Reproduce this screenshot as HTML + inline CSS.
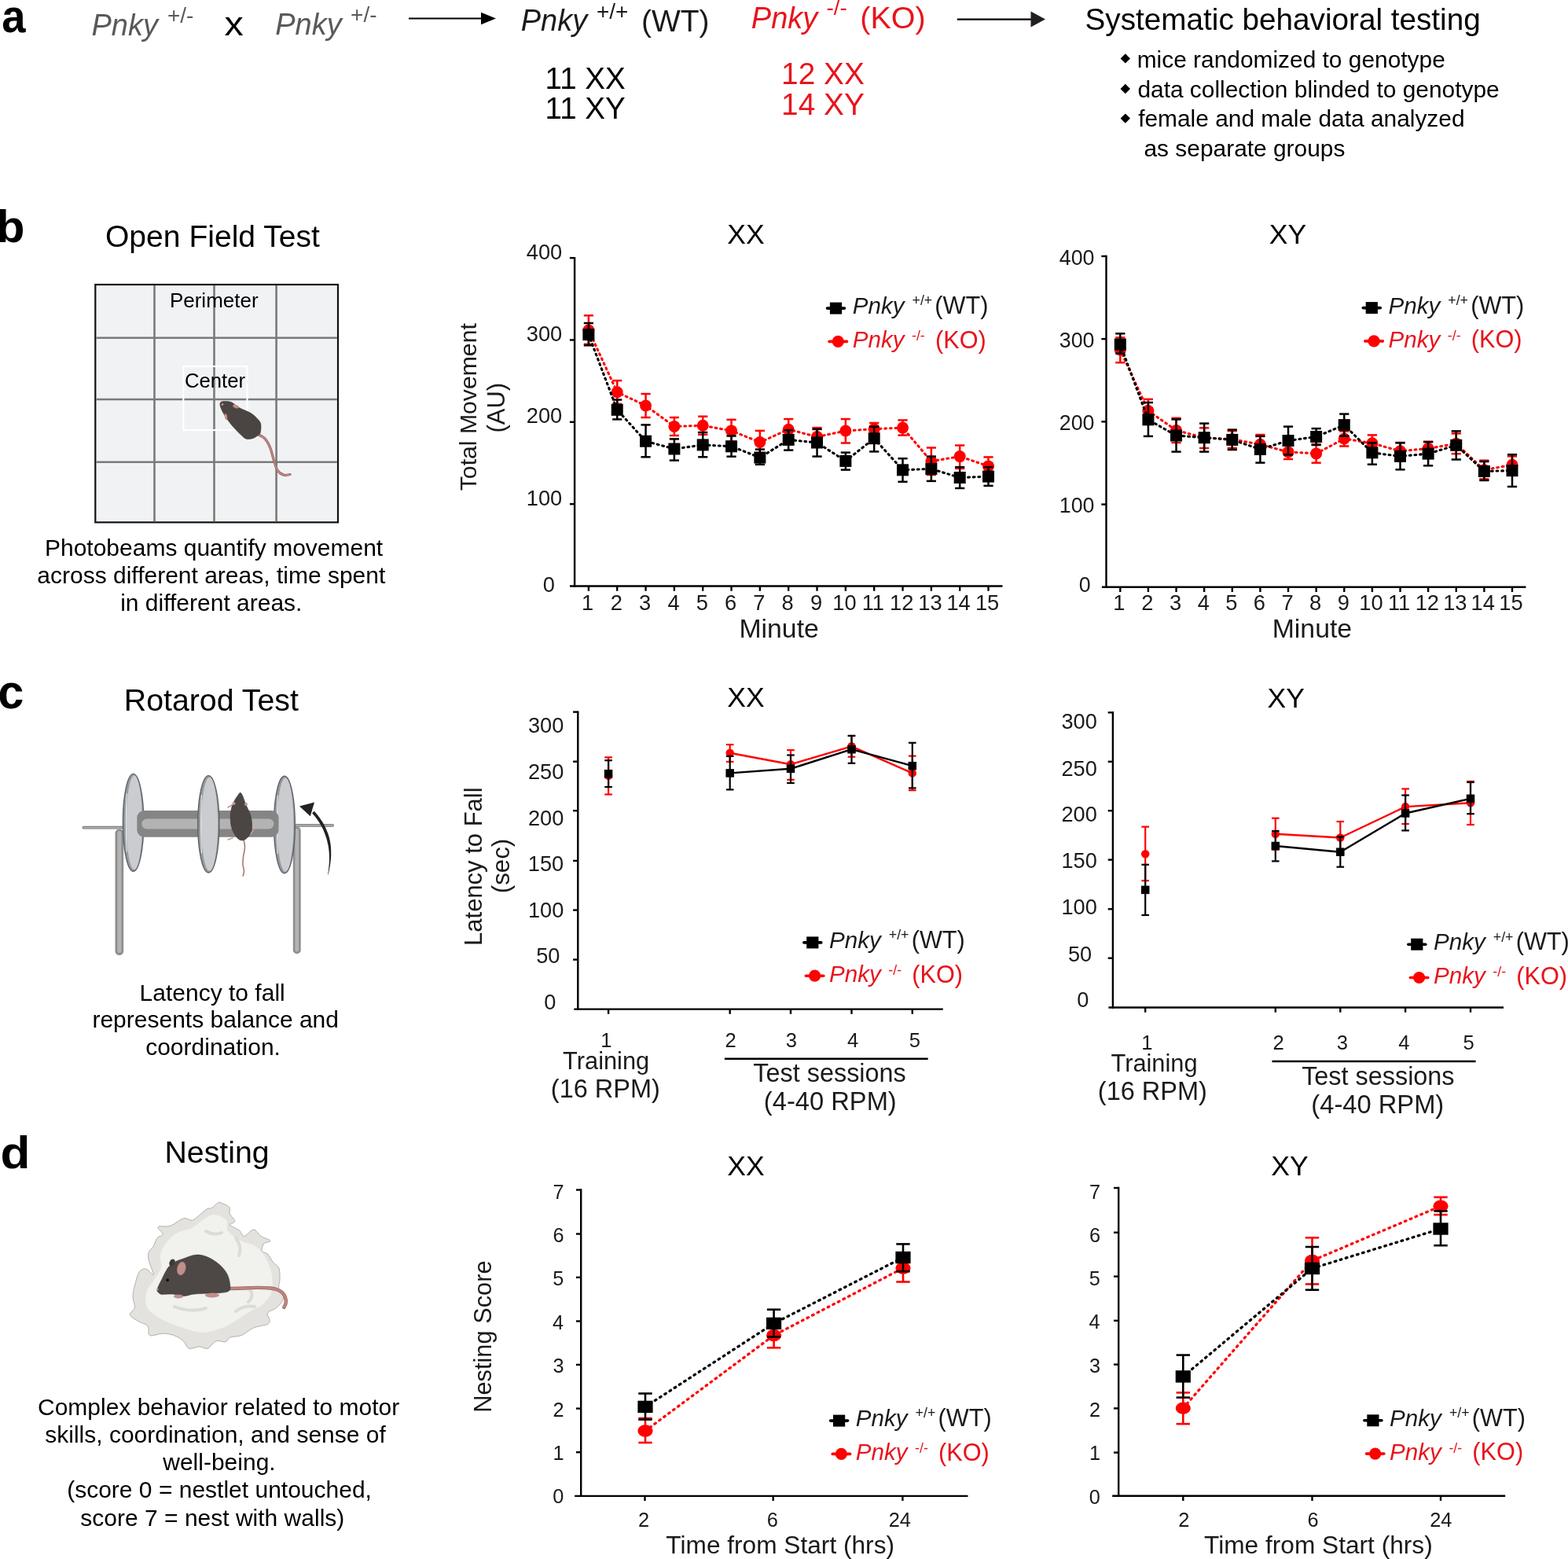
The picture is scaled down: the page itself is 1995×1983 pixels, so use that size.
<!DOCTYPE html>
<html><head><meta charset="utf-8"><title>Pnky behavioral testing</title>
<style>
html,body{margin:0;padding:0;background:#fff;}
svg{display:block;}
svg text{font-family:'Liberation Sans', Arial, sans-serif;}
</style></head>
<body>
<svg width="1995" height="1983" viewBox="0 0 1995 1983">
<rect width="1995" height="1983" fill="#fff"/>
<text transform="translate(2.37,41.20) scale(1,1.1)" font-size="54.50" font-weight="bold" fill="#000">a</text>
<text x="116.46" y="44.70" font-size="38.00" font-style="italic" fill="#58595b">Pnky</text>
<text x="212.90" y="28.90" font-size="28.00" fill="#58595b">+/-</text>
<text transform="translate(285.57,45.00) scale(1.14,1)" font-size="42.60" fill="#000">x</text>
<text x="350.16" y="44.20" font-size="38.00" font-style="italic" fill="#58595b">Pnky</text>
<text x="446.10" y="27.80" font-size="28.00" fill="#58595b">+/-</text>
<line x1="520.00" y1="23.50" x2="614.00" y2="23.50" stroke="#000" stroke-width="2.2"/>
<polygon points="612,15.8 631,23.5 612,31.2" fill="#000"/>
<text x="662.76" y="39.40" font-size="38.00" font-style="italic" fill="#1a1a1a">Pnky</text>
<text x="758.90" y="23.60" font-size="28.00" fill="#1a1a1a">+/+</text>
<text x="815.96" y="39.70" font-size="39.00" fill="#1a1a1a">(WT)</text>
<text x="955.86" y="36.20" font-size="38.00" font-style="italic" fill="#e8141c">Pnky</text>
<text x="1051.44" y="19.10" font-size="28.00" fill="#e8141c">-/-</text>
<text x="1094.33" y="35.80" font-size="39.50" fill="#e8141c">(KO)</text>
<line x1="1217.80" y1="24.60" x2="1313.00" y2="24.60" stroke="#000" stroke-width="2.2"/>
<polygon points="1311.5,14.6 1330,24.6 1311.5,34.6" fill="#231f20"/>
<text x="693.61" y="113.20" font-size="38.60" fill="#000">11 XX</text>
<text x="693.61" y="151.00" font-size="38.60" fill="#000">11 XY</text>
<text x="994.09" y="107.40" font-size="38.80" fill="#e8141c">12 XX</text>
<text x="994.09" y="146.20" font-size="38.80" fill="#e8141c">14 XY</text>
<text x="1380.56" y="38.20" font-size="38.70" fill="#000">Systematic behavioral testing</text>
<polygon points="1431.8,68.2 1438,74.4 1431.8,80.6 1425.6,74.4" fill="#000"/>
<polygon points="1431.8,106.8 1438,113.0 1431.8,119.2 1425.6,113.0" fill="#000"/>
<polygon points="1431.8,144.4 1438,150.6 1431.8,156.8 1425.6,150.6" fill="#000"/>
<text x="1446.66" y="85.70" font-size="29.90" fill="#000">mice randomized to genotype</text>
<text x="1447.40" y="123.60" font-size="29.90" fill="#000">data collection blinded to genotype</text>
<text x="1448.15" y="161.10" font-size="29.90" fill="#000">female and male data analyzed</text>
<text x="1455.50" y="199.00" font-size="29.90" fill="#000">as separate groups</text>
<text transform="translate(-4.65,307.80) scale(1.04,1)" font-size="57.00" font-weight="bold" fill="#000">b</text>
<text x="133.94" y="314.30" font-size="39.10" fill="#000">Open Field Test</text>
<text x="56.97" y="707.10" font-size="30.00" fill="#000">Photobeams quantify movement</text>
<text x="47.30" y="741.90" font-size="30.00" fill="#000">across different areas, time spent</text>
<text x="153.20" y="776.70" font-size="30.00" fill="#000">in different areas.</text>
<text transform="translate(-2.68,900.60) scale(1,1.04)" font-size="59.50" font-weight="bold" fill="#000">c</text>
<text x="157.76" y="904.30" font-size="39.30" fill="#000">Rotarod Test</text>
<text x="177.62" y="1272.80" font-size="30.00" fill="#000">Latency to fall</text>
<text x="117.45" y="1307.20" font-size="30.00" fill="#000">represents balance and</text>
<text x="185.18" y="1342.30" font-size="30.00" fill="#000">coordination.</text>
<text transform="translate(0.41,1485.80) scale(1.09,1)" font-size="57.00" font-weight="bold" fill="#000">d</text>
<text x="209.46" y="1479.20" font-size="39.30" fill="#000">Nesting</text>
<text x="47.98" y="1799.80" font-size="30.00" fill="#000">Complex behavior related to motor</text>
<text x="57.23" y="1834.90" font-size="30.00" fill="#000">skills, coordination, and sense of</text>
<text x="207.25" y="1870.10" font-size="30.00" fill="#000">well-being.</text>
<text x="85.18" y="1905.30" font-size="30.00" fill="#000">(score 0 = nestlet untouched,</text>
<text x="102.33" y="1940.50" font-size="30.00" fill="#000">score 7 = nest with walls)</text>
<rect x="121.3" y="362" width="308.7" height="302.4" fill="#f1f2f4" stroke="#111" stroke-width="2.2"/>
<line x1="196.50" y1="363.00" x2="196.50" y2="663.30" stroke="#7a7a7a" stroke-width="2.6"/>
<line x1="272.50" y1="363.00" x2="272.50" y2="663.30" stroke="#7a7a7a" stroke-width="2.6"/>
<line x1="351.60" y1="363.00" x2="351.60" y2="663.30" stroke="#7a7a7a" stroke-width="2.6"/>
<line x1="122.40" y1="429.70" x2="428.90" y2="429.70" stroke="#7a7a7a" stroke-width="2.6"/>
<line x1="122.40" y1="508.00" x2="428.90" y2="508.00" stroke="#7a7a7a" stroke-width="2.6"/>
<line x1="122.40" y1="587.70" x2="428.90" y2="587.70" stroke="#7a7a7a" stroke-width="2.6"/>
<rect x="233.3" y="466" width="81.2" height="81.1" fill="none" stroke="#fff" stroke-width="2.2"/>
<text x="215.92" y="391.20" font-size="26.00" fill="#000">Perimeter</text>
<text x="234.91" y="493.00" font-size="25.70" fill="#000">Center</text>
<line x1="731.10" y1="326.90" x2="731.10" y2="746.70" stroke="#000" stroke-width="2.4"/>
<line x1="725.00" y1="745.50" x2="1275.50" y2="745.50" stroke="#000" stroke-width="2.4"/>
<line x1="724.90" y1="641.15" x2="731.10" y2="641.15" stroke="#000" stroke-width="2.4"/>
<line x1="724.90" y1="536.80" x2="731.10" y2="536.80" stroke="#000" stroke-width="2.4"/>
<line x1="724.90" y1="432.45" x2="731.10" y2="432.45" stroke="#000" stroke-width="2.4"/>
<line x1="724.90" y1="328.10" x2="731.10" y2="328.10" stroke="#000" stroke-width="2.4"/>
<line x1="748.90" y1="745.50" x2="748.90" y2="751.70" stroke="#000" stroke-width="2.4"/>
<line x1="785.23" y1="745.50" x2="785.23" y2="751.70" stroke="#000" stroke-width="2.4"/>
<line x1="821.56" y1="745.50" x2="821.56" y2="751.70" stroke="#000" stroke-width="2.4"/>
<line x1="857.89" y1="745.50" x2="857.89" y2="751.70" stroke="#000" stroke-width="2.4"/>
<line x1="894.22" y1="745.50" x2="894.22" y2="751.70" stroke="#000" stroke-width="2.4"/>
<line x1="930.55" y1="745.50" x2="930.55" y2="751.70" stroke="#000" stroke-width="2.4"/>
<line x1="966.88" y1="745.50" x2="966.88" y2="751.70" stroke="#000" stroke-width="2.4"/>
<line x1="1003.21" y1="745.50" x2="1003.21" y2="751.70" stroke="#000" stroke-width="2.4"/>
<line x1="1039.54" y1="745.50" x2="1039.54" y2="751.70" stroke="#000" stroke-width="2.4"/>
<line x1="1075.87" y1="745.50" x2="1075.87" y2="751.70" stroke="#000" stroke-width="2.4"/>
<line x1="1112.20" y1="745.50" x2="1112.20" y2="751.70" stroke="#000" stroke-width="2.4"/>
<line x1="1148.53" y1="745.50" x2="1148.53" y2="751.70" stroke="#000" stroke-width="2.4"/>
<line x1="1184.86" y1="745.50" x2="1184.86" y2="751.70" stroke="#000" stroke-width="2.4"/>
<line x1="1221.19" y1="745.50" x2="1221.19" y2="751.70" stroke="#000" stroke-width="2.4"/>
<line x1="1257.52" y1="745.50" x2="1257.52" y2="751.70" stroke="#000" stroke-width="2.4"/>
<text x="669.74" y="642.75" font-size="27.30" fill="#1a1a1a">100</text>
<text x="669.74" y="538.40" font-size="27.30" fill="#1a1a1a">200</text>
<text x="669.74" y="434.05" font-size="27.30" fill="#1a1a1a">300</text>
<text x="669.74" y="329.70" font-size="27.30" fill="#1a1a1a">400</text>
<text x="690.74" y="752.80" font-size="27.30" fill="#1a1a1a">0</text>
<text x="739.91" y="776.20" font-size="27.30" fill="#1a1a1a">1</text>
<text x="776.65" y="776.20" font-size="27.30" fill="#1a1a1a">2</text>
<text x="813.05" y="776.20" font-size="27.30" fill="#1a1a1a">3</text>
<text x="849.38" y="776.20" font-size="27.30" fill="#1a1a1a">4</text>
<text x="885.64" y="776.20" font-size="27.30" fill="#1a1a1a">5</text>
<text x="921.91" y="776.20" font-size="27.30" fill="#1a1a1a">6</text>
<text x="958.30" y="776.20" font-size="27.30" fill="#1a1a1a">7</text>
<text x="994.57" y="776.20" font-size="27.30" fill="#1a1a1a">8</text>
<text x="1030.96" y="776.20" font-size="27.30" fill="#1a1a1a">9</text>
<text x="1059.24" y="776.20" font-size="27.30" fill="#1a1a1a">10</text>
<text x="1096.66" y="776.20" font-size="27.30" fill="#1a1a1a">11</text>
<text x="1132.04" y="776.20" font-size="27.30" fill="#1a1a1a">12</text>
<text x="1168.30" y="776.20" font-size="27.30" fill="#1a1a1a">13</text>
<text x="1204.42" y="776.20" font-size="27.30" fill="#1a1a1a">14</text>
<text x="1240.89" y="776.20" font-size="27.30" fill="#1a1a1a">15</text>
<text x="925.21" y="309.90" font-size="35.50" fill="#000">XX</text>
<text x="940.40" y="811.10" font-size="33.80" fill="#1a1a1a">Minute</text>
<text transform="translate(606.30,517.50) rotate(-90)" x="-106.76" y="0" font-size="30.20" fill="#1a1a1a">Total Movement</text>
<text transform="translate(642.30,518.75) rotate(-90)" x="-31.77" y="0" font-size="31.00" fill="#1a1a1a">(AU)</text>
<polyline points="748.90,420.00 785.23,498.80 821.56,516.00 857.89,542.40 894.22,541.30 930.55,547.90 966.88,562.50 1003.21,546.20 1039.54,555.60 1075.87,548.00 1112.20,545.70 1148.53,544.10 1184.86,586.70 1221.19,580.60 1257.52,592.90" fill="none" stroke="#ff0000" stroke-width="3.1" stroke-dasharray="1.8 4.8" stroke-linecap="round" stroke-linejoin="round"/>
<line x1="748.90" y1="401.30" x2="748.90" y2="437.80" stroke="#ff0000" stroke-width="2.5"/>
<line x1="742.80" y1="401.30" x2="755.00" y2="401.30" stroke="#ff0000" stroke-width="2.5"/>
<line x1="742.80" y1="437.80" x2="755.00" y2="437.80" stroke="#ff0000" stroke-width="2.5"/>
<line x1="785.23" y1="484.10" x2="785.23" y2="513.80" stroke="#ff0000" stroke-width="2.5"/>
<line x1="779.13" y1="484.10" x2="791.33" y2="484.10" stroke="#ff0000" stroke-width="2.5"/>
<line x1="779.13" y1="513.80" x2="791.33" y2="513.80" stroke="#ff0000" stroke-width="2.5"/>
<line x1="821.56" y1="501.00" x2="821.56" y2="531.00" stroke="#ff0000" stroke-width="2.5"/>
<line x1="815.46" y1="501.00" x2="827.66" y2="501.00" stroke="#ff0000" stroke-width="2.5"/>
<line x1="815.46" y1="531.00" x2="827.66" y2="531.00" stroke="#ff0000" stroke-width="2.5"/>
<line x1="857.89" y1="531.00" x2="857.89" y2="554.00" stroke="#ff0000" stroke-width="2.5"/>
<line x1="851.79" y1="531.00" x2="863.99" y2="531.00" stroke="#ff0000" stroke-width="2.5"/>
<line x1="851.79" y1="554.00" x2="863.99" y2="554.00" stroke="#ff0000" stroke-width="2.5"/>
<line x1="894.22" y1="529.70" x2="894.22" y2="552.80" stroke="#ff0000" stroke-width="2.5"/>
<line x1="888.12" y1="529.70" x2="900.32" y2="529.70" stroke="#ff0000" stroke-width="2.5"/>
<line x1="888.12" y1="552.80" x2="900.32" y2="552.80" stroke="#ff0000" stroke-width="2.5"/>
<line x1="930.55" y1="533.80" x2="930.55" y2="561.60" stroke="#ff0000" stroke-width="2.5"/>
<line x1="924.45" y1="533.80" x2="936.65" y2="533.80" stroke="#ff0000" stroke-width="2.5"/>
<line x1="924.45" y1="561.60" x2="936.65" y2="561.60" stroke="#ff0000" stroke-width="2.5"/>
<line x1="966.88" y1="547.90" x2="966.88" y2="576.60" stroke="#ff0000" stroke-width="2.5"/>
<line x1="960.78" y1="547.90" x2="972.98" y2="547.90" stroke="#ff0000" stroke-width="2.5"/>
<line x1="960.78" y1="576.60" x2="972.98" y2="576.60" stroke="#ff0000" stroke-width="2.5"/>
<line x1="1003.21" y1="533.00" x2="1003.21" y2="559.40" stroke="#ff0000" stroke-width="2.5"/>
<line x1="997.11" y1="533.00" x2="1009.31" y2="533.00" stroke="#ff0000" stroke-width="2.5"/>
<line x1="997.11" y1="559.40" x2="1009.31" y2="559.40" stroke="#ff0000" stroke-width="2.5"/>
<line x1="1039.54" y1="544.10" x2="1039.54" y2="567.00" stroke="#ff0000" stroke-width="2.5"/>
<line x1="1033.44" y1="544.10" x2="1045.64" y2="544.10" stroke="#ff0000" stroke-width="2.5"/>
<line x1="1033.44" y1="567.00" x2="1045.64" y2="567.00" stroke="#ff0000" stroke-width="2.5"/>
<line x1="1075.87" y1="533.00" x2="1075.87" y2="563.50" stroke="#ff0000" stroke-width="2.5"/>
<line x1="1069.77" y1="533.00" x2="1081.97" y2="533.00" stroke="#ff0000" stroke-width="2.5"/>
<line x1="1069.77" y1="563.50" x2="1081.97" y2="563.50" stroke="#ff0000" stroke-width="2.5"/>
<line x1="1112.20" y1="538.00" x2="1112.20" y2="553.40" stroke="#ff0000" stroke-width="2.5"/>
<line x1="1106.10" y1="538.00" x2="1118.30" y2="538.00" stroke="#ff0000" stroke-width="2.5"/>
<line x1="1106.10" y1="553.40" x2="1118.30" y2="553.40" stroke="#ff0000" stroke-width="2.5"/>
<line x1="1148.53" y1="534.40" x2="1148.53" y2="553.60" stroke="#ff0000" stroke-width="2.5"/>
<line x1="1142.43" y1="534.40" x2="1154.63" y2="534.40" stroke="#ff0000" stroke-width="2.5"/>
<line x1="1142.43" y1="553.60" x2="1154.63" y2="553.60" stroke="#ff0000" stroke-width="2.5"/>
<line x1="1184.86" y1="569.50" x2="1184.86" y2="604.00" stroke="#ff0000" stroke-width="2.5"/>
<line x1="1178.76" y1="569.50" x2="1190.96" y2="569.50" stroke="#ff0000" stroke-width="2.5"/>
<line x1="1178.76" y1="604.00" x2="1190.96" y2="604.00" stroke="#ff0000" stroke-width="2.5"/>
<line x1="1221.19" y1="566.50" x2="1221.19" y2="595.90" stroke="#ff0000" stroke-width="2.5"/>
<line x1="1215.09" y1="566.50" x2="1227.29" y2="566.50" stroke="#ff0000" stroke-width="2.5"/>
<line x1="1215.09" y1="595.90" x2="1227.29" y2="595.90" stroke="#ff0000" stroke-width="2.5"/>
<line x1="1257.52" y1="581.40" x2="1257.52" y2="604.40" stroke="#ff0000" stroke-width="2.5"/>
<line x1="1251.42" y1="581.40" x2="1263.62" y2="581.40" stroke="#ff0000" stroke-width="2.5"/>
<line x1="1251.42" y1="604.40" x2="1263.62" y2="604.40" stroke="#ff0000" stroke-width="2.5"/>
<ellipse cx="748.90" cy="420.00" rx="7.5" ry="7.5" fill="#ff0000"/>
<ellipse cx="785.23" cy="498.80" rx="7.5" ry="7.5" fill="#ff0000"/>
<ellipse cx="821.56" cy="516.00" rx="7.5" ry="7.5" fill="#ff0000"/>
<ellipse cx="857.89" cy="542.40" rx="7.5" ry="7.5" fill="#ff0000"/>
<ellipse cx="894.22" cy="541.30" rx="7.5" ry="7.5" fill="#ff0000"/>
<ellipse cx="930.55" cy="547.90" rx="7.5" ry="7.5" fill="#ff0000"/>
<ellipse cx="966.88" cy="562.50" rx="7.5" ry="7.5" fill="#ff0000"/>
<ellipse cx="1003.21" cy="546.20" rx="7.5" ry="7.5" fill="#ff0000"/>
<ellipse cx="1039.54" cy="555.60" rx="7.5" ry="7.5" fill="#ff0000"/>
<ellipse cx="1075.87" cy="548.00" rx="7.5" ry="7.5" fill="#ff0000"/>
<ellipse cx="1112.20" cy="545.70" rx="7.5" ry="7.5" fill="#ff0000"/>
<ellipse cx="1148.53" cy="544.10" rx="7.5" ry="7.5" fill="#ff0000"/>
<ellipse cx="1184.86" cy="586.70" rx="7.5" ry="7.5" fill="#ff0000"/>
<ellipse cx="1221.19" cy="580.60" rx="7.5" ry="7.5" fill="#ff0000"/>
<ellipse cx="1257.52" cy="592.90" rx="7.5" ry="7.5" fill="#ff0000"/>
<polyline points="748.90,425.60 785.23,521.30 821.56,561.20 857.89,571.00 894.22,565.90 930.55,567.80 966.88,582.00 1003.21,559.40 1039.54,563.00 1075.87,586.40 1112.20,557.70 1148.53,597.80 1184.86,596.40 1221.19,607.50 1257.52,606.10" fill="none" stroke="#000" stroke-width="3.1" stroke-dasharray="1.8 4.8" stroke-linecap="round" stroke-linejoin="round"/>
<line x1="748.90" y1="411.00" x2="748.90" y2="439.30" stroke="#000" stroke-width="2.5"/>
<line x1="742.80" y1="411.00" x2="755.00" y2="411.00" stroke="#000" stroke-width="2.5"/>
<line x1="742.80" y1="439.30" x2="755.00" y2="439.30" stroke="#000" stroke-width="2.5"/>
<line x1="785.23" y1="508.50" x2="785.23" y2="533.40" stroke="#000" stroke-width="2.5"/>
<line x1="779.13" y1="508.50" x2="791.33" y2="508.50" stroke="#000" stroke-width="2.5"/>
<line x1="779.13" y1="533.40" x2="791.33" y2="533.40" stroke="#000" stroke-width="2.5"/>
<line x1="821.56" y1="540.40" x2="821.56" y2="581.30" stroke="#000" stroke-width="2.5"/>
<line x1="815.46" y1="540.40" x2="827.66" y2="540.40" stroke="#000" stroke-width="2.5"/>
<line x1="815.46" y1="581.30" x2="827.66" y2="581.30" stroke="#000" stroke-width="2.5"/>
<line x1="857.89" y1="558.40" x2="857.89" y2="585.60" stroke="#000" stroke-width="2.5"/>
<line x1="851.79" y1="558.40" x2="863.99" y2="558.40" stroke="#000" stroke-width="2.5"/>
<line x1="851.79" y1="585.60" x2="863.99" y2="585.60" stroke="#000" stroke-width="2.5"/>
<line x1="894.22" y1="550.00" x2="894.22" y2="581.30" stroke="#000" stroke-width="2.5"/>
<line x1="888.12" y1="550.00" x2="900.32" y2="550.00" stroke="#000" stroke-width="2.5"/>
<line x1="888.12" y1="581.30" x2="900.32" y2="581.30" stroke="#000" stroke-width="2.5"/>
<line x1="930.55" y1="554.50" x2="930.55" y2="580.70" stroke="#000" stroke-width="2.5"/>
<line x1="924.45" y1="554.50" x2="936.65" y2="554.50" stroke="#000" stroke-width="2.5"/>
<line x1="924.45" y1="580.70" x2="936.65" y2="580.70" stroke="#000" stroke-width="2.5"/>
<line x1="966.88" y1="571.60" x2="966.88" y2="590.80" stroke="#000" stroke-width="2.5"/>
<line x1="960.78" y1="571.60" x2="972.98" y2="571.60" stroke="#000" stroke-width="2.5"/>
<line x1="960.78" y1="590.80" x2="972.98" y2="590.80" stroke="#000" stroke-width="2.5"/>
<line x1="1003.21" y1="547.10" x2="1003.21" y2="572.60" stroke="#000" stroke-width="2.5"/>
<line x1="997.11" y1="547.10" x2="1009.31" y2="547.10" stroke="#000" stroke-width="2.5"/>
<line x1="997.11" y1="572.60" x2="1009.31" y2="572.60" stroke="#000" stroke-width="2.5"/>
<line x1="1039.54" y1="545.90" x2="1039.54" y2="580.60" stroke="#000" stroke-width="2.5"/>
<line x1="1033.44" y1="545.90" x2="1045.64" y2="545.90" stroke="#000" stroke-width="2.5"/>
<line x1="1033.44" y1="580.60" x2="1045.64" y2="580.60" stroke="#000" stroke-width="2.5"/>
<line x1="1075.87" y1="575.60" x2="1075.87" y2="597.60" stroke="#000" stroke-width="2.5"/>
<line x1="1069.77" y1="575.60" x2="1081.97" y2="575.60" stroke="#000" stroke-width="2.5"/>
<line x1="1069.77" y1="597.60" x2="1081.97" y2="597.60" stroke="#000" stroke-width="2.5"/>
<line x1="1112.20" y1="542.70" x2="1112.20" y2="574.40" stroke="#000" stroke-width="2.5"/>
<line x1="1106.10" y1="542.70" x2="1118.30" y2="542.70" stroke="#000" stroke-width="2.5"/>
<line x1="1106.10" y1="574.40" x2="1118.30" y2="574.40" stroke="#000" stroke-width="2.5"/>
<line x1="1148.53" y1="583.20" x2="1148.53" y2="612.80" stroke="#000" stroke-width="2.5"/>
<line x1="1142.43" y1="583.20" x2="1154.63" y2="583.20" stroke="#000" stroke-width="2.5"/>
<line x1="1142.43" y1="612.80" x2="1154.63" y2="612.80" stroke="#000" stroke-width="2.5"/>
<line x1="1184.86" y1="580.60" x2="1184.86" y2="611.90" stroke="#000" stroke-width="2.5"/>
<line x1="1178.76" y1="580.60" x2="1190.96" y2="580.60" stroke="#000" stroke-width="2.5"/>
<line x1="1178.76" y1="611.90" x2="1190.96" y2="611.90" stroke="#000" stroke-width="2.5"/>
<line x1="1221.19" y1="594.10" x2="1221.19" y2="621.00" stroke="#000" stroke-width="2.5"/>
<line x1="1215.09" y1="594.10" x2="1227.29" y2="594.10" stroke="#000" stroke-width="2.5"/>
<line x1="1215.09" y1="621.00" x2="1227.29" y2="621.00" stroke="#000" stroke-width="2.5"/>
<line x1="1257.52" y1="594.10" x2="1257.52" y2="617.90" stroke="#000" stroke-width="2.5"/>
<line x1="1251.42" y1="594.10" x2="1263.62" y2="594.10" stroke="#000" stroke-width="2.5"/>
<line x1="1251.42" y1="617.90" x2="1263.62" y2="617.90" stroke="#000" stroke-width="2.5"/>
<rect x="741.40" y="418.10" width="15" height="15" fill="#000"/>
<rect x="777.73" y="513.80" width="15" height="15" fill="#000"/>
<rect x="814.06" y="553.70" width="15" height="15" fill="#000"/>
<rect x="850.39" y="563.50" width="15" height="15" fill="#000"/>
<rect x="886.72" y="558.40" width="15" height="15" fill="#000"/>
<rect x="923.05" y="560.30" width="15" height="15" fill="#000"/>
<rect x="959.38" y="574.50" width="15" height="15" fill="#000"/>
<rect x="995.71" y="551.90" width="15" height="15" fill="#000"/>
<rect x="1032.04" y="555.50" width="15" height="15" fill="#000"/>
<rect x="1068.37" y="578.90" width="15" height="15" fill="#000"/>
<rect x="1104.70" y="550.20" width="15" height="15" fill="#000"/>
<rect x="1141.03" y="590.30" width="15" height="15" fill="#000"/>
<rect x="1177.36" y="588.90" width="15" height="15" fill="#000"/>
<rect x="1213.69" y="600.00" width="15" height="15" fill="#000"/>
<rect x="1250.02" y="598.60" width="15" height="15" fill="#000"/>
<line x1="1052.50" y1="392.10" x2="1074.50" y2="392.10" stroke="#000" stroke-width="3.6" stroke-linecap="round"/>
<rect x="1055.90" y="384.60" width="15.2" height="15" fill="#000"/>
<line x1="1055.10" y1="434.40" x2="1077.50" y2="434.40" stroke="#ff0000" stroke-width="3.6" stroke-linecap="round"/>
<circle cx="1066.30" cy="434.40" r="7.6" fill="#ff0000"/>
<text x="1084.71" y="399.00" font-size="29.60" font-style="italic" fill="#1a1a1a">Pnky</text>
<text x="1160.51" y="388.40" font-size="17.80" fill="#1a1a1a">+/+</text>
<text x="1189.36" y="399.00" font-size="30.70" fill="#1a1a1a">(WT)</text>
<text x="1084.71" y="442.10" font-size="29.60" font-style="italic" fill="#e8141c">Pnky</text>
<text x="1160.00" y="433.00" font-size="17.80" fill="#e8141c">-/-</text>
<text x="1189.96" y="442.70" font-size="30.70" fill="#e8141c">(KO)</text>
<line x1="1407.50" y1="324.70" x2="1407.50" y2="748.00" stroke="#000" stroke-width="2.4"/>
<line x1="1401.90" y1="746.80" x2="1941.40" y2="746.80" stroke="#000" stroke-width="2.4"/>
<line x1="1401.30" y1="641.57" x2="1407.50" y2="641.57" stroke="#000" stroke-width="2.4"/>
<line x1="1401.30" y1="536.35" x2="1407.50" y2="536.35" stroke="#000" stroke-width="2.4"/>
<line x1="1401.30" y1="431.12" x2="1407.50" y2="431.12" stroke="#000" stroke-width="2.4"/>
<line x1="1401.30" y1="325.90" x2="1407.50" y2="325.90" stroke="#000" stroke-width="2.4"/>
<line x1="1425.30" y1="746.80" x2="1425.30" y2="753.00" stroke="#000" stroke-width="2.4"/>
<line x1="1460.92" y1="746.80" x2="1460.92" y2="753.00" stroke="#000" stroke-width="2.4"/>
<line x1="1496.54" y1="746.80" x2="1496.54" y2="753.00" stroke="#000" stroke-width="2.4"/>
<line x1="1532.16" y1="746.80" x2="1532.16" y2="753.00" stroke="#000" stroke-width="2.4"/>
<line x1="1567.78" y1="746.80" x2="1567.78" y2="753.00" stroke="#000" stroke-width="2.4"/>
<line x1="1603.40" y1="746.80" x2="1603.40" y2="753.00" stroke="#000" stroke-width="2.4"/>
<line x1="1639.02" y1="746.80" x2="1639.02" y2="753.00" stroke="#000" stroke-width="2.4"/>
<line x1="1674.64" y1="746.80" x2="1674.64" y2="753.00" stroke="#000" stroke-width="2.4"/>
<line x1="1710.26" y1="746.80" x2="1710.26" y2="753.00" stroke="#000" stroke-width="2.4"/>
<line x1="1745.88" y1="746.80" x2="1745.88" y2="753.00" stroke="#000" stroke-width="2.4"/>
<line x1="1781.50" y1="746.80" x2="1781.50" y2="753.00" stroke="#000" stroke-width="2.4"/>
<line x1="1817.12" y1="746.80" x2="1817.12" y2="753.00" stroke="#000" stroke-width="2.4"/>
<line x1="1852.74" y1="746.80" x2="1852.74" y2="753.00" stroke="#000" stroke-width="2.4"/>
<line x1="1888.36" y1="746.80" x2="1888.36" y2="753.00" stroke="#000" stroke-width="2.4"/>
<line x1="1923.98" y1="746.80" x2="1923.98" y2="753.00" stroke="#000" stroke-width="2.4"/>
<text x="1347.75" y="652.47" font-size="26.80" fill="#1a1a1a">100</text>
<text x="1347.75" y="547.25" font-size="26.80" fill="#1a1a1a">200</text>
<text x="1347.75" y="442.02" font-size="26.80" fill="#1a1a1a">300</text>
<text x="1347.75" y="336.80" font-size="26.80" fill="#1a1a1a">400</text>
<text x="1372.80" y="752.90" font-size="26.80" fill="#1a1a1a">0</text>
<text x="1416.31" y="775.90" font-size="27.30" fill="#1a1a1a">1</text>
<text x="1452.34" y="775.90" font-size="27.30" fill="#1a1a1a">2</text>
<text x="1488.03" y="775.90" font-size="27.30" fill="#1a1a1a">3</text>
<text x="1523.65" y="775.90" font-size="27.30" fill="#1a1a1a">4</text>
<text x="1559.20" y="775.90" font-size="27.30" fill="#1a1a1a">5</text>
<text x="1594.76" y="775.90" font-size="27.30" fill="#1a1a1a">6</text>
<text x="1630.44" y="775.90" font-size="27.30" fill="#1a1a1a">7</text>
<text x="1666.00" y="775.90" font-size="27.30" fill="#1a1a1a">8</text>
<text x="1701.68" y="775.90" font-size="27.30" fill="#1a1a1a">9</text>
<text x="1729.25" y="775.90" font-size="27.30" fill="#1a1a1a">10</text>
<text x="1765.96" y="775.90" font-size="27.30" fill="#1a1a1a">11</text>
<text x="1800.63" y="775.90" font-size="27.30" fill="#1a1a1a">12</text>
<text x="1836.18" y="775.90" font-size="27.30" fill="#1a1a1a">13</text>
<text x="1871.59" y="775.90" font-size="27.30" fill="#1a1a1a">14</text>
<text x="1907.35" y="775.90" font-size="27.30" fill="#1a1a1a">15</text>
<text x="1614.71" y="309.60" font-size="35.50" fill="#000">XY</text>
<text x="1618.70" y="810.80" font-size="33.80" fill="#1a1a1a">Minute</text>
<polyline points="1425.30,444.90 1460.92,522.60 1496.54,547.40 1532.16,556.70 1567.78,558.80 1603.40,565.30 1639.02,574.90 1674.64,576.90 1710.26,558.00 1745.88,563.80 1781.50,573.80 1817.12,570.50 1852.74,564.30 1888.36,597.80 1923.98,591.20" fill="none" stroke="#ff0000" stroke-width="3.1" stroke-dasharray="1.8 4.8" stroke-linecap="round" stroke-linejoin="round"/>
<line x1="1425.30" y1="429.40" x2="1425.30" y2="461.20" stroke="#ff0000" stroke-width="2.5"/>
<line x1="1419.20" y1="429.40" x2="1431.40" y2="429.40" stroke="#ff0000" stroke-width="2.5"/>
<line x1="1419.20" y1="461.20" x2="1431.40" y2="461.20" stroke="#ff0000" stroke-width="2.5"/>
<line x1="1460.92" y1="507.80" x2="1460.92" y2="537.40" stroke="#ff0000" stroke-width="2.5"/>
<line x1="1454.82" y1="507.80" x2="1467.02" y2="507.80" stroke="#ff0000" stroke-width="2.5"/>
<line x1="1454.82" y1="537.40" x2="1467.02" y2="537.40" stroke="#ff0000" stroke-width="2.5"/>
<line x1="1496.54" y1="531.80" x2="1496.54" y2="563.00" stroke="#ff0000" stroke-width="2.5"/>
<line x1="1490.44" y1="531.80" x2="1502.64" y2="531.80" stroke="#ff0000" stroke-width="2.5"/>
<line x1="1490.44" y1="563.00" x2="1502.64" y2="563.00" stroke="#ff0000" stroke-width="2.5"/>
<line x1="1532.16" y1="544.30" x2="1532.16" y2="570.00" stroke="#ff0000" stroke-width="2.5"/>
<line x1="1526.06" y1="544.30" x2="1538.26" y2="544.30" stroke="#ff0000" stroke-width="2.5"/>
<line x1="1526.06" y1="570.00" x2="1538.26" y2="570.00" stroke="#ff0000" stroke-width="2.5"/>
<line x1="1567.78" y1="548.20" x2="1567.78" y2="570.00" stroke="#ff0000" stroke-width="2.5"/>
<line x1="1561.68" y1="548.20" x2="1573.88" y2="548.20" stroke="#ff0000" stroke-width="2.5"/>
<line x1="1561.68" y1="570.00" x2="1573.88" y2="570.00" stroke="#ff0000" stroke-width="2.5"/>
<line x1="1603.40" y1="553.00" x2="1603.40" y2="577.60" stroke="#ff0000" stroke-width="2.5"/>
<line x1="1597.30" y1="553.00" x2="1609.50" y2="553.00" stroke="#ff0000" stroke-width="2.5"/>
<line x1="1597.30" y1="577.60" x2="1609.50" y2="577.60" stroke="#ff0000" stroke-width="2.5"/>
<line x1="1639.02" y1="565.80" x2="1639.02" y2="584.00" stroke="#ff0000" stroke-width="2.5"/>
<line x1="1632.92" y1="565.80" x2="1645.12" y2="565.80" stroke="#ff0000" stroke-width="2.5"/>
<line x1="1632.92" y1="584.00" x2="1645.12" y2="584.00" stroke="#ff0000" stroke-width="2.5"/>
<line x1="1674.64" y1="565.10" x2="1674.64" y2="588.70" stroke="#ff0000" stroke-width="2.5"/>
<line x1="1668.54" y1="565.10" x2="1680.74" y2="565.10" stroke="#ff0000" stroke-width="2.5"/>
<line x1="1668.54" y1="588.70" x2="1680.74" y2="588.70" stroke="#ff0000" stroke-width="2.5"/>
<line x1="1710.26" y1="548.50" x2="1710.26" y2="567.50" stroke="#ff0000" stroke-width="2.5"/>
<line x1="1704.16" y1="548.50" x2="1716.36" y2="548.50" stroke="#ff0000" stroke-width="2.5"/>
<line x1="1704.16" y1="567.50" x2="1716.36" y2="567.50" stroke="#ff0000" stroke-width="2.5"/>
<line x1="1745.88" y1="553.40" x2="1745.88" y2="574.00" stroke="#ff0000" stroke-width="2.5"/>
<line x1="1739.78" y1="553.40" x2="1751.98" y2="553.40" stroke="#ff0000" stroke-width="2.5"/>
<line x1="1739.78" y1="574.00" x2="1751.98" y2="574.00" stroke="#ff0000" stroke-width="2.5"/>
<line x1="1781.50" y1="563.00" x2="1781.50" y2="584.60" stroke="#ff0000" stroke-width="2.5"/>
<line x1="1775.40" y1="563.00" x2="1787.60" y2="563.00" stroke="#ff0000" stroke-width="2.5"/>
<line x1="1775.40" y1="584.60" x2="1787.60" y2="584.60" stroke="#ff0000" stroke-width="2.5"/>
<line x1="1817.12" y1="561.70" x2="1817.12" y2="579.30" stroke="#ff0000" stroke-width="2.5"/>
<line x1="1811.02" y1="561.70" x2="1823.22" y2="561.70" stroke="#ff0000" stroke-width="2.5"/>
<line x1="1811.02" y1="579.30" x2="1823.22" y2="579.30" stroke="#ff0000" stroke-width="2.5"/>
<line x1="1852.74" y1="551.40" x2="1852.74" y2="577.20" stroke="#ff0000" stroke-width="2.5"/>
<line x1="1846.64" y1="551.40" x2="1858.84" y2="551.40" stroke="#ff0000" stroke-width="2.5"/>
<line x1="1846.64" y1="577.20" x2="1858.84" y2="577.20" stroke="#ff0000" stroke-width="2.5"/>
<line x1="1888.36" y1="585.70" x2="1888.36" y2="609.40" stroke="#ff0000" stroke-width="2.5"/>
<line x1="1882.26" y1="585.70" x2="1894.46" y2="585.70" stroke="#ff0000" stroke-width="2.5"/>
<line x1="1882.26" y1="609.40" x2="1894.46" y2="609.40" stroke="#ff0000" stroke-width="2.5"/>
<line x1="1923.98" y1="580.40" x2="1923.98" y2="602.00" stroke="#ff0000" stroke-width="2.5"/>
<line x1="1917.88" y1="580.40" x2="1930.08" y2="580.40" stroke="#ff0000" stroke-width="2.5"/>
<line x1="1917.88" y1="602.00" x2="1930.08" y2="602.00" stroke="#ff0000" stroke-width="2.5"/>
<ellipse cx="1425.30" cy="444.90" rx="7.5" ry="7.5" fill="#ff0000"/>
<ellipse cx="1460.92" cy="522.60" rx="7.5" ry="7.5" fill="#ff0000"/>
<ellipse cx="1496.54" cy="547.40" rx="7.5" ry="7.5" fill="#ff0000"/>
<ellipse cx="1532.16" cy="556.70" rx="7.5" ry="7.5" fill="#ff0000"/>
<ellipse cx="1567.78" cy="558.80" rx="7.5" ry="7.5" fill="#ff0000"/>
<ellipse cx="1603.40" cy="565.30" rx="7.5" ry="7.5" fill="#ff0000"/>
<ellipse cx="1639.02" cy="574.90" rx="7.5" ry="7.5" fill="#ff0000"/>
<ellipse cx="1674.64" cy="576.90" rx="7.5" ry="7.5" fill="#ff0000"/>
<ellipse cx="1710.26" cy="558.00" rx="7.5" ry="7.5" fill="#ff0000"/>
<ellipse cx="1745.88" cy="563.80" rx="7.5" ry="7.5" fill="#ff0000"/>
<ellipse cx="1781.50" cy="573.80" rx="7.5" ry="7.5" fill="#ff0000"/>
<ellipse cx="1817.12" cy="570.50" rx="7.5" ry="7.5" fill="#ff0000"/>
<ellipse cx="1852.74" cy="564.30" rx="7.5" ry="7.5" fill="#ff0000"/>
<ellipse cx="1888.36" cy="597.80" rx="7.5" ry="7.5" fill="#ff0000"/>
<ellipse cx="1923.98" cy="591.20" rx="7.5" ry="7.5" fill="#ff0000"/>
<polyline points="1425.30,438.00 1460.92,533.80 1496.54,554.00 1532.16,556.70 1567.78,559.40 1603.40,571.50 1639.02,560.50 1674.64,555.50 1710.26,540.60 1745.88,575.80 1781.50,580.40 1817.12,577.10 1852.74,566.30 1888.36,599.40 1923.98,598.60" fill="none" stroke="#000" stroke-width="3.1" stroke-dasharray="1.8 4.8" stroke-linecap="round" stroke-linejoin="round"/>
<line x1="1425.30" y1="424.30" x2="1425.30" y2="449.60" stroke="#000" stroke-width="2.5"/>
<line x1="1419.20" y1="424.30" x2="1431.40" y2="424.30" stroke="#000" stroke-width="2.5"/>
<line x1="1419.20" y1="449.60" x2="1431.40" y2="449.60" stroke="#000" stroke-width="2.5"/>
<line x1="1460.92" y1="512.00" x2="1460.92" y2="554.90" stroke="#000" stroke-width="2.5"/>
<line x1="1454.82" y1="512.00" x2="1467.02" y2="512.00" stroke="#000" stroke-width="2.5"/>
<line x1="1454.82" y1="554.90" x2="1467.02" y2="554.90" stroke="#000" stroke-width="2.5"/>
<line x1="1496.54" y1="533.40" x2="1496.54" y2="574.60" stroke="#000" stroke-width="2.5"/>
<line x1="1490.44" y1="533.40" x2="1502.64" y2="533.40" stroke="#000" stroke-width="2.5"/>
<line x1="1490.44" y1="574.60" x2="1502.64" y2="574.60" stroke="#000" stroke-width="2.5"/>
<line x1="1532.16" y1="538.60" x2="1532.16" y2="574.60" stroke="#000" stroke-width="2.5"/>
<line x1="1526.06" y1="538.60" x2="1538.26" y2="538.60" stroke="#000" stroke-width="2.5"/>
<line x1="1526.06" y1="574.60" x2="1538.26" y2="574.60" stroke="#000" stroke-width="2.5"/>
<line x1="1567.78" y1="546.60" x2="1567.78" y2="572.00" stroke="#000" stroke-width="2.5"/>
<line x1="1561.68" y1="546.60" x2="1573.88" y2="546.60" stroke="#000" stroke-width="2.5"/>
<line x1="1561.68" y1="572.00" x2="1573.88" y2="572.00" stroke="#000" stroke-width="2.5"/>
<line x1="1603.40" y1="554.90" x2="1603.40" y2="588.60" stroke="#000" stroke-width="2.5"/>
<line x1="1597.30" y1="554.90" x2="1609.50" y2="554.90" stroke="#000" stroke-width="2.5"/>
<line x1="1597.30" y1="588.60" x2="1609.50" y2="588.60" stroke="#000" stroke-width="2.5"/>
<line x1="1639.02" y1="542.60" x2="1639.02" y2="578.40" stroke="#000" stroke-width="2.5"/>
<line x1="1632.92" y1="542.60" x2="1645.12" y2="542.60" stroke="#000" stroke-width="2.5"/>
<line x1="1632.92" y1="578.40" x2="1645.12" y2="578.40" stroke="#000" stroke-width="2.5"/>
<line x1="1674.64" y1="545.10" x2="1674.64" y2="566.00" stroke="#000" stroke-width="2.5"/>
<line x1="1668.54" y1="545.10" x2="1680.74" y2="545.10" stroke="#000" stroke-width="2.5"/>
<line x1="1668.54" y1="566.00" x2="1680.74" y2="566.00" stroke="#000" stroke-width="2.5"/>
<line x1="1710.26" y1="526.60" x2="1710.26" y2="554.70" stroke="#000" stroke-width="2.5"/>
<line x1="1704.16" y1="526.60" x2="1716.36" y2="526.60" stroke="#000" stroke-width="2.5"/>
<line x1="1704.16" y1="554.70" x2="1716.36" y2="554.70" stroke="#000" stroke-width="2.5"/>
<line x1="1745.88" y1="563.30" x2="1745.88" y2="590.70" stroke="#000" stroke-width="2.5"/>
<line x1="1739.78" y1="563.30" x2="1751.98" y2="563.30" stroke="#000" stroke-width="2.5"/>
<line x1="1739.78" y1="590.70" x2="1751.98" y2="590.70" stroke="#000" stroke-width="2.5"/>
<line x1="1781.50" y1="563.30" x2="1781.50" y2="597.30" stroke="#000" stroke-width="2.5"/>
<line x1="1775.40" y1="563.30" x2="1787.60" y2="563.30" stroke="#000" stroke-width="2.5"/>
<line x1="1775.40" y1="597.30" x2="1787.60" y2="597.30" stroke="#000" stroke-width="2.5"/>
<line x1="1817.12" y1="562.20" x2="1817.12" y2="592.30" stroke="#000" stroke-width="2.5"/>
<line x1="1811.02" y1="562.20" x2="1823.22" y2="562.20" stroke="#000" stroke-width="2.5"/>
<line x1="1811.02" y1="592.30" x2="1823.22" y2="592.30" stroke="#000" stroke-width="2.5"/>
<line x1="1852.74" y1="548.40" x2="1852.74" y2="584.50" stroke="#000" stroke-width="2.5"/>
<line x1="1846.64" y1="548.40" x2="1858.84" y2="548.40" stroke="#000" stroke-width="2.5"/>
<line x1="1846.64" y1="584.50" x2="1858.84" y2="584.50" stroke="#000" stroke-width="2.5"/>
<line x1="1888.36" y1="587.00" x2="1888.36" y2="611.00" stroke="#000" stroke-width="2.5"/>
<line x1="1882.26" y1="587.00" x2="1894.46" y2="587.00" stroke="#000" stroke-width="2.5"/>
<line x1="1882.26" y1="611.00" x2="1894.46" y2="611.00" stroke="#000" stroke-width="2.5"/>
<line x1="1923.98" y1="578.20" x2="1923.98" y2="619.00" stroke="#000" stroke-width="2.5"/>
<line x1="1917.88" y1="578.20" x2="1930.08" y2="578.20" stroke="#000" stroke-width="2.5"/>
<line x1="1917.88" y1="619.00" x2="1930.08" y2="619.00" stroke="#000" stroke-width="2.5"/>
<rect x="1417.80" y="430.50" width="15" height="15" fill="#000"/>
<rect x="1453.42" y="526.30" width="15" height="15" fill="#000"/>
<rect x="1489.04" y="546.50" width="15" height="15" fill="#000"/>
<rect x="1524.66" y="549.20" width="15" height="15" fill="#000"/>
<rect x="1560.28" y="551.90" width="15" height="15" fill="#000"/>
<rect x="1595.90" y="564.00" width="15" height="15" fill="#000"/>
<rect x="1631.52" y="553.00" width="15" height="15" fill="#000"/>
<rect x="1667.14" y="548.00" width="15" height="15" fill="#000"/>
<rect x="1702.76" y="533.10" width="15" height="15" fill="#000"/>
<rect x="1738.38" y="568.30" width="15" height="15" fill="#000"/>
<rect x="1774.00" y="572.90" width="15" height="15" fill="#000"/>
<rect x="1809.62" y="569.60" width="15" height="15" fill="#000"/>
<rect x="1845.24" y="558.80" width="15" height="15" fill="#000"/>
<rect x="1880.86" y="591.90" width="15" height="15" fill="#000"/>
<rect x="1916.48" y="591.10" width="15" height="15" fill="#000"/>
<line x1="1734.30" y1="391.60" x2="1756.30" y2="391.60" stroke="#000" stroke-width="3.6" stroke-linecap="round"/>
<rect x="1737.70" y="384.10" width="15.2" height="15" fill="#000"/>
<line x1="1736.90" y1="433.90" x2="1759.30" y2="433.90" stroke="#ff0000" stroke-width="3.6" stroke-linecap="round"/>
<circle cx="1748.10" cy="433.90" r="7.6" fill="#ff0000"/>
<text x="1766.51" y="398.50" font-size="29.60" font-style="italic" fill="#1a1a1a">Pnky</text>
<text x="1842.31" y="387.90" font-size="17.80" fill="#1a1a1a">+/+</text>
<text x="1871.16" y="398.50" font-size="30.70" fill="#1a1a1a">(WT)</text>
<text x="1766.51" y="441.60" font-size="29.60" font-style="italic" fill="#e8141c">Pnky</text>
<text x="1841.80" y="432.50" font-size="17.80" fill="#e8141c">-/-</text>
<text x="1871.76" y="442.20" font-size="30.70" fill="#e8141c">(KO)</text>
<line x1="735.30" y1="904.40" x2="735.30" y2="1284.80" stroke="#000" stroke-width="2.4"/>
<line x1="730.30" y1="1283.60" x2="1199.80" y2="1283.60" stroke="#000" stroke-width="2.4"/>
<line x1="729.10" y1="905.60" x2="735.30" y2="905.60" stroke="#000" stroke-width="2.4"/>
<line x1="729.10" y1="968.70" x2="735.30" y2="968.70" stroke="#000" stroke-width="2.4"/>
<line x1="729.10" y1="1031.20" x2="735.30" y2="1031.20" stroke="#000" stroke-width="2.4"/>
<line x1="729.10" y1="1094.90" x2="735.30" y2="1094.90" stroke="#000" stroke-width="2.4"/>
<line x1="729.10" y1="1157.60" x2="735.30" y2="1157.60" stroke="#000" stroke-width="2.4"/>
<line x1="729.10" y1="1220.60" x2="735.30" y2="1220.60" stroke="#000" stroke-width="2.4"/>
<line x1="774.10" y1="1283.60" x2="774.10" y2="1289.80" stroke="#000" stroke-width="2.4"/>
<line x1="928.70" y1="1283.60" x2="928.70" y2="1289.80" stroke="#000" stroke-width="2.4"/>
<line x1="1006.00" y1="1283.60" x2="1006.00" y2="1289.80" stroke="#000" stroke-width="2.4"/>
<line x1="1083.50" y1="1283.60" x2="1083.50" y2="1289.80" stroke="#000" stroke-width="2.4"/>
<line x1="1160.80" y1="1283.60" x2="1160.80" y2="1289.80" stroke="#000" stroke-width="2.4"/>
<text x="671.90" y="931.90" font-size="27.20" fill="#1a1a1a">300</text>
<text x="671.90" y="991.30" font-size="27.20" fill="#1a1a1a">250</text>
<text x="671.90" y="1049.90" font-size="27.20" fill="#1a1a1a">200</text>
<text x="671.80" y="1108.30" font-size="27.20" fill="#1a1a1a">150</text>
<text x="671.90" y="1166.70" font-size="27.20" fill="#1a1a1a">100</text>
<text x="682.20" y="1225.40" font-size="27.20" fill="#1a1a1a">50</text>
<text x="692.19" y="1284.40" font-size="27.20" fill="#1a1a1a">0</text>
<text x="764.31" y="1331.60" font-size="25.60" fill="#1a1a1a">1</text>
<text x="922.50" y="1331.60" font-size="25.60" fill="#1a1a1a">2</text>
<text x="999.86" y="1331.60" font-size="25.60" fill="#1a1a1a">3</text>
<text x="1077.96" y="1331.60" font-size="25.60" fill="#1a1a1a">4</text>
<text x="1156.80" y="1331.60" font-size="25.60" fill="#1a1a1a">5</text>
<text x="716.08" y="1360.10" font-size="30.80" fill="#1a1a1a">Training</text>
<text x="700.85" y="1395.60" font-size="32.50" fill="#1a1a1a">(16 RPM)</text>
<line x1="921.90" y1="1346.70" x2="1180.70" y2="1346.70" stroke="#000" stroke-width="2.5"/>
<text x="958.35" y="1376.10" font-size="32.40" fill="#1a1a1a">Test sessions</text>
<text x="971.84" y="1412.30" font-size="32.70" fill="#1a1a1a">(4-40 RPM)</text>
<text x="925.21" y="899.40" font-size="35.50" fill="#000">XX</text>
<text transform="translate(612.50,1102.00) rotate(-90)" x="-100.98" y="0" font-size="31.00" fill="#1a1a1a">Latency to Fall</text>
<text transform="translate(648.00,1101.50) rotate(-90)" x="-34.63" y="0" font-size="31.20" fill="#1a1a1a">(sec)</text>
<polyline points="928.70,957.70 1006.00,972.20 1083.50,949.30 1160.80,983.40" fill="none" stroke="#ff0000" stroke-width="2.4" stroke-linejoin="round"/>
<line x1="774.10" y1="963.30" x2="774.10" y2="1010.50" stroke="#ff0000" stroke-width="2.2"/>
<line x1="769.30" y1="963.30" x2="778.90" y2="963.30" stroke="#ff0000" stroke-width="2.2"/>
<line x1="769.30" y1="1010.50" x2="778.90" y2="1010.50" stroke="#ff0000" stroke-width="2.2"/>
<line x1="928.70" y1="947.10" x2="928.70" y2="968.90" stroke="#ff0000" stroke-width="2.2"/>
<line x1="923.90" y1="947.10" x2="933.50" y2="947.10" stroke="#ff0000" stroke-width="2.2"/>
<line x1="923.90" y1="968.90" x2="933.50" y2="968.90" stroke="#ff0000" stroke-width="2.2"/>
<line x1="1006.00" y1="954.10" x2="1006.00" y2="991.80" stroke="#ff0000" stroke-width="2.2"/>
<line x1="1001.20" y1="954.10" x2="1010.80" y2="954.10" stroke="#ff0000" stroke-width="2.2"/>
<line x1="1001.20" y1="991.80" x2="1010.80" y2="991.80" stroke="#ff0000" stroke-width="2.2"/>
<line x1="1083.50" y1="935.90" x2="1083.50" y2="962.70" stroke="#ff0000" stroke-width="2.2"/>
<line x1="1078.70" y1="935.90" x2="1088.30" y2="935.90" stroke="#ff0000" stroke-width="2.2"/>
<line x1="1078.70" y1="962.70" x2="1088.30" y2="962.70" stroke="#ff0000" stroke-width="2.2"/>
<line x1="1160.80" y1="961.60" x2="1160.80" y2="1005.20" stroke="#ff0000" stroke-width="2.2"/>
<line x1="1156.00" y1="961.60" x2="1165.60" y2="961.60" stroke="#ff0000" stroke-width="2.2"/>
<line x1="1156.00" y1="1005.20" x2="1165.60" y2="1005.20" stroke="#ff0000" stroke-width="2.2"/>
<ellipse cx="774.10" cy="986.80" rx="5.25" ry="5.25" fill="#ff0000"/>
<ellipse cx="928.70" cy="957.70" rx="5.25" ry="5.25" fill="#ff0000"/>
<ellipse cx="1006.00" cy="972.20" rx="5.25" ry="5.25" fill="#ff0000"/>
<ellipse cx="1083.50" cy="949.30" rx="5.25" ry="5.25" fill="#ff0000"/>
<ellipse cx="1160.80" cy="983.40" rx="5.25" ry="5.25" fill="#ff0000"/>
<polyline points="928.70,983.40 1006.00,977.80 1083.50,953.20 1160.80,974.20" fill="none" stroke="#000" stroke-width="2.4" stroke-linejoin="round"/>
<line x1="774.10" y1="967.20" x2="774.10" y2="1001.00" stroke="#000" stroke-width="2.2"/>
<line x1="769.30" y1="967.20" x2="778.90" y2="967.20" stroke="#000" stroke-width="2.2"/>
<line x1="769.30" y1="1001.00" x2="778.90" y2="1001.00" stroke="#000" stroke-width="2.2"/>
<line x1="928.70" y1="961.90" x2="928.70" y2="1004.40" stroke="#000" stroke-width="2.2"/>
<line x1="923.90" y1="961.90" x2="933.50" y2="961.90" stroke="#000" stroke-width="2.2"/>
<line x1="923.90" y1="1004.40" x2="933.50" y2="1004.40" stroke="#000" stroke-width="2.2"/>
<line x1="1006.00" y1="960.50" x2="1006.00" y2="996.00" stroke="#000" stroke-width="2.2"/>
<line x1="1001.20" y1="960.50" x2="1010.80" y2="960.50" stroke="#000" stroke-width="2.2"/>
<line x1="1001.20" y1="996.00" x2="1010.80" y2="996.00" stroke="#000" stroke-width="2.2"/>
<line x1="1083.50" y1="935.90" x2="1083.50" y2="970.80" stroke="#000" stroke-width="2.2"/>
<line x1="1078.70" y1="935.90" x2="1088.30" y2="935.90" stroke="#000" stroke-width="2.2"/>
<line x1="1078.70" y1="970.80" x2="1088.30" y2="970.80" stroke="#000" stroke-width="2.2"/>
<line x1="1160.80" y1="944.80" x2="1160.80" y2="1002.40" stroke="#000" stroke-width="2.2"/>
<line x1="1156.00" y1="944.80" x2="1165.60" y2="944.80" stroke="#000" stroke-width="2.2"/>
<line x1="1156.00" y1="1002.40" x2="1165.60" y2="1002.40" stroke="#000" stroke-width="2.2"/>
<rect x="768.85" y="978.95" width="10.5" height="10.5" fill="#000"/>
<rect x="923.45" y="978.15" width="10.5" height="10.5" fill="#000"/>
<rect x="1000.75" y="972.55" width="10.5" height="10.5" fill="#000"/>
<rect x="1078.25" y="947.95" width="10.5" height="10.5" fill="#000"/>
<rect x="1155.55" y="968.95" width="10.5" height="10.5" fill="#000"/>
<line x1="1022.80" y1="1198.90" x2="1044.80" y2="1198.90" stroke="#000" stroke-width="3.6" stroke-linecap="round"/>
<rect x="1026.20" y="1191.40" width="15.2" height="15" fill="#000"/>
<line x1="1025.40" y1="1241.20" x2="1047.80" y2="1241.20" stroke="#ff0000" stroke-width="3.6" stroke-linecap="round"/>
<circle cx="1036.60" cy="1241.20" r="7.6" fill="#ff0000"/>
<text x="1055.01" y="1205.80" font-size="29.60" font-style="italic" fill="#1a1a1a">Pnky</text>
<text x="1130.81" y="1195.20" font-size="17.80" fill="#1a1a1a">+/+</text>
<text x="1159.66" y="1205.80" font-size="30.70" fill="#1a1a1a">(WT)</text>
<text x="1055.01" y="1248.90" font-size="29.60" font-style="italic" fill="#e8141c">Pnky</text>
<text x="1130.30" y="1239.80" font-size="17.80" fill="#e8141c">-/-</text>
<text x="1160.26" y="1249.50" font-size="30.70" fill="#e8141c">(KO)</text>
<line x1="1415.90" y1="905.10" x2="1415.90" y2="1282.70" stroke="#000" stroke-width="2.4"/>
<line x1="1410.40" y1="1281.50" x2="1913.00" y2="1281.50" stroke="#000" stroke-width="2.4"/>
<line x1="1409.70" y1="906.30" x2="1415.90" y2="906.30" stroke="#000" stroke-width="2.4"/>
<line x1="1409.70" y1="968.80" x2="1415.90" y2="968.80" stroke="#000" stroke-width="2.4"/>
<line x1="1409.70" y1="1031.20" x2="1415.90" y2="1031.20" stroke="#000" stroke-width="2.4"/>
<line x1="1409.70" y1="1093.60" x2="1415.90" y2="1093.60" stroke="#000" stroke-width="2.4"/>
<line x1="1409.70" y1="1156.30" x2="1415.90" y2="1156.30" stroke="#000" stroke-width="2.4"/>
<line x1="1409.70" y1="1218.70" x2="1415.90" y2="1218.70" stroke="#000" stroke-width="2.4"/>
<line x1="1457.20" y1="1281.50" x2="1457.20" y2="1287.70" stroke="#000" stroke-width="2.4"/>
<line x1="1622.80" y1="1281.50" x2="1622.80" y2="1287.70" stroke="#000" stroke-width="2.4"/>
<line x1="1705.30" y1="1281.50" x2="1705.30" y2="1287.70" stroke="#000" stroke-width="2.4"/>
<line x1="1788.10" y1="1281.50" x2="1788.10" y2="1287.70" stroke="#000" stroke-width="2.4"/>
<line x1="1871.00" y1="1281.50" x2="1871.00" y2="1287.70" stroke="#000" stroke-width="2.4"/>
<text x="1350.50" y="927.20" font-size="27.20" fill="#1a1a1a">300</text>
<text x="1350.50" y="987.00" font-size="27.20" fill="#1a1a1a">250</text>
<text x="1350.50" y="1045.40" font-size="27.20" fill="#1a1a1a">200</text>
<text x="1350.50" y="1103.80" font-size="27.20" fill="#1a1a1a">150</text>
<text x="1350.50" y="1163.30" font-size="27.20" fill="#1a1a1a">100</text>
<text x="1358.90" y="1222.80" font-size="27.20" fill="#1a1a1a">50</text>
<text x="1370.19" y="1281.10" font-size="27.20" fill="#1a1a1a">0</text>
<text x="1452.21" y="1334.60" font-size="25.60" fill="#1a1a1a">1</text>
<text x="1619.40" y="1334.60" font-size="25.60" fill="#1a1a1a">2</text>
<text x="1700.86" y="1334.60" font-size="25.60" fill="#1a1a1a">3</text>
<text x="1779.26" y="1334.60" font-size="25.60" fill="#1a1a1a">4</text>
<text x="1861.40" y="1334.60" font-size="25.60" fill="#1a1a1a">5</text>
<text x="1413.48" y="1363.30" font-size="30.80" fill="#1a1a1a">Training</text>
<text x="1396.85" y="1398.80" font-size="32.50" fill="#1a1a1a">(16 RPM)</text>
<line x1="1618.50" y1="1350.10" x2="1877.60" y2="1350.10" stroke="#000" stroke-width="2.5"/>
<text x="1656.15" y="1379.50" font-size="32.40" fill="#1a1a1a">Test sessions</text>
<text x="1668.34" y="1415.50" font-size="32.70" fill="#1a1a1a">(4-40 RPM)</text>
<text x="1612.51" y="899.60" font-size="35.50" fill="#000">XY</text>
<polyline points="1622.80,1060.70 1705.30,1065.50 1788.10,1026.10 1871.00,1021.30" fill="none" stroke="#ff0000" stroke-width="2.4" stroke-linejoin="round"/>
<line x1="1457.20" y1="1051.60" x2="1457.20" y2="1120.20" stroke="#ff0000" stroke-width="2.2"/>
<line x1="1452.40" y1="1051.60" x2="1462.00" y2="1051.60" stroke="#ff0000" stroke-width="2.2"/>
<line x1="1452.40" y1="1120.20" x2="1462.00" y2="1120.20" stroke="#ff0000" stroke-width="2.2"/>
<line x1="1622.80" y1="1040.70" x2="1622.80" y2="1080.70" stroke="#ff0000" stroke-width="2.2"/>
<line x1="1618.00" y1="1040.70" x2="1627.60" y2="1040.70" stroke="#ff0000" stroke-width="2.2"/>
<line x1="1618.00" y1="1080.70" x2="1627.60" y2="1080.70" stroke="#ff0000" stroke-width="2.2"/>
<line x1="1705.30" y1="1045.00" x2="1705.30" y2="1086.00" stroke="#ff0000" stroke-width="2.2"/>
<line x1="1700.50" y1="1045.00" x2="1710.10" y2="1045.00" stroke="#ff0000" stroke-width="2.2"/>
<line x1="1700.50" y1="1086.00" x2="1710.10" y2="1086.00" stroke="#ff0000" stroke-width="2.2"/>
<line x1="1788.10" y1="1003.40" x2="1788.10" y2="1048.00" stroke="#ff0000" stroke-width="2.2"/>
<line x1="1783.30" y1="1003.40" x2="1792.90" y2="1003.40" stroke="#ff0000" stroke-width="2.2"/>
<line x1="1783.30" y1="1048.00" x2="1792.90" y2="1048.00" stroke="#ff0000" stroke-width="2.2"/>
<line x1="1871.00" y1="993.90" x2="1871.00" y2="1049.00" stroke="#ff0000" stroke-width="2.2"/>
<line x1="1866.20" y1="993.90" x2="1875.80" y2="993.90" stroke="#ff0000" stroke-width="2.2"/>
<line x1="1866.20" y1="1049.00" x2="1875.80" y2="1049.00" stroke="#ff0000" stroke-width="2.2"/>
<ellipse cx="1457.20" cy="1086.30" rx="5.25" ry="5.25" fill="#ff0000"/>
<ellipse cx="1622.80" cy="1060.70" rx="5.25" ry="5.25" fill="#ff0000"/>
<ellipse cx="1705.30" cy="1065.50" rx="5.25" ry="5.25" fill="#ff0000"/>
<ellipse cx="1788.10" cy="1026.10" rx="5.25" ry="5.25" fill="#ff0000"/>
<ellipse cx="1871.00" cy="1021.30" rx="5.25" ry="5.25" fill="#ff0000"/>
<polyline points="1622.80,1076.00 1705.30,1083.70 1788.10,1034.50 1871.00,1015.80" fill="none" stroke="#000" stroke-width="2.4" stroke-linejoin="round"/>
<line x1="1457.20" y1="1099.80" x2="1457.20" y2="1164.00" stroke="#000" stroke-width="2.2"/>
<line x1="1452.40" y1="1099.80" x2="1462.00" y2="1099.80" stroke="#000" stroke-width="2.2"/>
<line x1="1452.40" y1="1164.00" x2="1462.00" y2="1164.00" stroke="#000" stroke-width="2.2"/>
<line x1="1622.80" y1="1057.00" x2="1622.80" y2="1095.40" stroke="#000" stroke-width="2.2"/>
<line x1="1618.00" y1="1057.00" x2="1627.60" y2="1057.00" stroke="#000" stroke-width="2.2"/>
<line x1="1618.00" y1="1095.40" x2="1627.60" y2="1095.40" stroke="#000" stroke-width="2.2"/>
<line x1="1705.30" y1="1064.40" x2="1705.30" y2="1102.70" stroke="#000" stroke-width="2.2"/>
<line x1="1700.50" y1="1064.40" x2="1710.10" y2="1064.40" stroke="#000" stroke-width="2.2"/>
<line x1="1700.50" y1="1102.70" x2="1710.10" y2="1102.70" stroke="#000" stroke-width="2.2"/>
<line x1="1788.10" y1="1011.50" x2="1788.10" y2="1056.40" stroke="#000" stroke-width="2.2"/>
<line x1="1783.30" y1="1011.50" x2="1792.90" y2="1011.50" stroke="#000" stroke-width="2.2"/>
<line x1="1783.30" y1="1056.40" x2="1792.90" y2="1056.40" stroke="#000" stroke-width="2.2"/>
<line x1="1871.00" y1="995.00" x2="1871.00" y2="1035.20" stroke="#000" stroke-width="2.2"/>
<line x1="1866.20" y1="995.00" x2="1875.80" y2="995.00" stroke="#000" stroke-width="2.2"/>
<line x1="1866.20" y1="1035.20" x2="1875.80" y2="1035.20" stroke="#000" stroke-width="2.2"/>
<rect x="1451.95" y="1126.65" width="10.5" height="10.5" fill="#000"/>
<rect x="1617.55" y="1070.75" width="10.5" height="10.5" fill="#000"/>
<rect x="1700.05" y="1078.45" width="10.5" height="10.5" fill="#000"/>
<rect x="1782.85" y="1029.25" width="10.5" height="10.5" fill="#000"/>
<rect x="1865.75" y="1010.55" width="10.5" height="10.5" fill="#000"/>
<line x1="1791.80" y1="1201.20" x2="1813.80" y2="1201.20" stroke="#000" stroke-width="3.6" stroke-linecap="round"/>
<rect x="1795.20" y="1193.70" width="15.2" height="15" fill="#000"/>
<line x1="1794.40" y1="1243.50" x2="1816.80" y2="1243.50" stroke="#ff0000" stroke-width="3.6" stroke-linecap="round"/>
<circle cx="1805.60" cy="1243.50" r="7.6" fill="#ff0000"/>
<text x="1824.01" y="1208.10" font-size="29.60" font-style="italic" fill="#1a1a1a">Pnky</text>
<text x="1899.81" y="1197.50" font-size="17.80" fill="#1a1a1a">+/+</text>
<text x="1928.66" y="1208.10" font-size="30.70" fill="#1a1a1a">(WT)</text>
<text x="1824.01" y="1251.20" font-size="29.60" font-style="italic" fill="#e8141c">Pnky</text>
<text x="1899.30" y="1242.10" font-size="17.80" fill="#e8141c">-/-</text>
<text x="1929.26" y="1251.80" font-size="30.70" fill="#e8141c">(KO)</text>
<line x1="739.20" y1="1512.30" x2="739.20" y2="1904.10" stroke="#000" stroke-width="2.4"/>
<line x1="731.10" y1="1902.90" x2="1231.50" y2="1902.90" stroke="#000" stroke-width="2.4"/>
<line x1="733.00" y1="1513.50" x2="739.20" y2="1513.50" stroke="#000" stroke-width="2.4"/>
<line x1="733.00" y1="1569.50" x2="739.20" y2="1569.50" stroke="#000" stroke-width="2.4"/>
<line x1="733.00" y1="1624.80" x2="739.20" y2="1624.80" stroke="#000" stroke-width="2.4"/>
<line x1="733.00" y1="1680.50" x2="739.20" y2="1680.50" stroke="#000" stroke-width="2.4"/>
<line x1="733.00" y1="1735.90" x2="739.20" y2="1735.90" stroke="#000" stroke-width="2.4"/>
<line x1="733.00" y1="1791.60" x2="739.20" y2="1791.60" stroke="#000" stroke-width="2.4"/>
<line x1="733.00" y1="1847.20" x2="739.20" y2="1847.20" stroke="#000" stroke-width="2.4"/>
<line x1="820.50" y1="1902.90" x2="820.50" y2="1909.10" stroke="#000" stroke-width="2.4"/>
<line x1="983.70" y1="1902.90" x2="983.70" y2="1909.10" stroke="#000" stroke-width="2.4"/>
<line x1="1148.40" y1="1902.90" x2="1148.40" y2="1909.10" stroke="#000" stroke-width="2.4"/>
<text x="703.52" y="1525.20" font-size="25.30" fill="#1a1a1a">7</text>
<text x="703.40" y="1579.60" font-size="25.30" fill="#1a1a1a">6</text>
<text x="703.27" y="1635.00" font-size="25.30" fill="#1a1a1a">5</text>
<text x="703.02" y="1691.00" font-size="25.30" fill="#1a1a1a">4</text>
<text x="703.40" y="1745.80" font-size="25.30" fill="#1a1a1a">3</text>
<text x="703.52" y="1801.50" font-size="25.30" fill="#1a1a1a">2</text>
<text x="703.40" y="1856.60" font-size="25.30" fill="#1a1a1a">1</text>
<text x="703.27" y="1912.10" font-size="25.30" fill="#1a1a1a">0</text>
<text x="811.95" y="1941.90" font-size="25.40" fill="#1a1a1a">2</text>
<text x="975.69" y="1941.90" font-size="25.40" fill="#1a1a1a">6</text>
<text x="1130.65" y="1941.90" font-size="25.40" fill="#1a1a1a">24</text>
<text x="847.37" y="1975.60" font-size="31.65" fill="#1a1a1a">Time from Start (hrs)</text>
<text x="925.21" y="1495.20" font-size="35.50" fill="#000">XX</text>
<text transform="translate(625.00,1699.60) rotate(-90)" x="-97.25" y="0" font-size="30.80" fill="#1a1a1a">Nesting Score</text>
<polyline points="821.00,1820.00 984.60,1698.50 1149.00,1613.00" fill="none" stroke="#ff0000" stroke-width="3.3" stroke-dasharray="1.7 5.7" stroke-linecap="round" stroke-linejoin="round"/>
<line x1="821.00" y1="1804.00" x2="821.00" y2="1835.00" stroke="#ff0000" stroke-width="2.6"/>
<line x1="812.30" y1="1804.00" x2="829.70" y2="1804.00" stroke="#ff0000" stroke-width="2.6"/>
<line x1="812.30" y1="1835.00" x2="829.70" y2="1835.00" stroke="#ff0000" stroke-width="2.6"/>
<line x1="984.60" y1="1682.50" x2="984.60" y2="1714.30" stroke="#ff0000" stroke-width="2.6"/>
<line x1="975.90" y1="1682.50" x2="993.30" y2="1682.50" stroke="#ff0000" stroke-width="2.6"/>
<line x1="975.90" y1="1714.30" x2="993.30" y2="1714.30" stroke="#ff0000" stroke-width="2.6"/>
<line x1="1149.00" y1="1596.50" x2="1149.00" y2="1630.50" stroke="#ff0000" stroke-width="2.6"/>
<line x1="1140.30" y1="1596.50" x2="1157.70" y2="1596.50" stroke="#ff0000" stroke-width="2.6"/>
<line x1="1140.30" y1="1630.50" x2="1157.70" y2="1630.50" stroke="#ff0000" stroke-width="2.6"/>
<ellipse cx="821.00" cy="1820.00" rx="9.6" ry="7.7" fill="#ff0000"/>
<ellipse cx="984.60" cy="1698.50" rx="9.6" ry="7.7" fill="#ff0000"/>
<ellipse cx="1149.00" cy="1613.00" rx="9.6" ry="7.7" fill="#ff0000"/>
<polyline points="821.00,1789.40 984.60,1683.40 1149.00,1599.50" fill="none" stroke="#000" stroke-width="3.3" stroke-dasharray="1.7 5.7" stroke-linecap="round" stroke-linejoin="round"/>
<line x1="821.00" y1="1772.50" x2="821.00" y2="1805.60" stroke="#000" stroke-width="2.6"/>
<line x1="812.30" y1="1772.50" x2="829.70" y2="1772.50" stroke="#000" stroke-width="2.6"/>
<line x1="812.30" y1="1805.60" x2="829.70" y2="1805.60" stroke="#000" stroke-width="2.6"/>
<line x1="984.60" y1="1665.70" x2="984.60" y2="1700.40" stroke="#000" stroke-width="2.6"/>
<line x1="975.90" y1="1665.70" x2="993.30" y2="1665.70" stroke="#000" stroke-width="2.6"/>
<line x1="975.90" y1="1700.40" x2="993.30" y2="1700.40" stroke="#000" stroke-width="2.6"/>
<line x1="1149.00" y1="1582.40" x2="1149.00" y2="1617.20" stroke="#000" stroke-width="2.6"/>
<line x1="1140.30" y1="1582.40" x2="1157.70" y2="1582.40" stroke="#000" stroke-width="2.6"/>
<line x1="1140.30" y1="1617.20" x2="1157.70" y2="1617.20" stroke="#000" stroke-width="2.6"/>
<rect x="811.40" y="1781.70" width="19.2" height="15.4" fill="#000"/>
<rect x="975.00" y="1675.70" width="19.2" height="15.4" fill="#000"/>
<rect x="1139.40" y="1591.80" width="19.2" height="15.4" fill="#000"/>
<line x1="1056.60" y1="1807.10" x2="1078.60" y2="1807.10" stroke="#000" stroke-width="3.6" stroke-linecap="round"/>
<rect x="1060.00" y="1799.60" width="15.2" height="15" fill="#000"/>
<line x1="1059.20" y1="1849.40" x2="1081.60" y2="1849.40" stroke="#ff0000" stroke-width="3.6" stroke-linecap="round"/>
<circle cx="1070.40" cy="1849.40" r="7.6" fill="#ff0000"/>
<text x="1088.81" y="1814.00" font-size="29.60" font-style="italic" fill="#1a1a1a">Pnky</text>
<text x="1164.61" y="1803.40" font-size="17.80" fill="#1a1a1a">+/+</text>
<text x="1193.46" y="1814.00" font-size="30.70" fill="#1a1a1a">(WT)</text>
<text x="1088.81" y="1857.10" font-size="29.60" font-style="italic" fill="#e8141c">Pnky</text>
<text x="1164.10" y="1848.00" font-size="17.80" fill="#e8141c">-/-</text>
<text x="1194.06" y="1857.70" font-size="30.70" fill="#e8141c">(KO)</text>
<line x1="1423.20" y1="1509.80" x2="1423.20" y2="1904.00" stroke="#000" stroke-width="2.4"/>
<line x1="1415.20" y1="1902.80" x2="1915.20" y2="1902.80" stroke="#000" stroke-width="2.4"/>
<line x1="1417.00" y1="1511.00" x2="1423.20" y2="1511.00" stroke="#000" stroke-width="2.4"/>
<line x1="1417.00" y1="1567.70" x2="1423.20" y2="1567.70" stroke="#000" stroke-width="2.4"/>
<line x1="1417.00" y1="1623.60" x2="1423.20" y2="1623.60" stroke="#000" stroke-width="2.4"/>
<line x1="1417.00" y1="1679.80" x2="1423.20" y2="1679.80" stroke="#000" stroke-width="2.4"/>
<line x1="1417.00" y1="1735.60" x2="1423.20" y2="1735.60" stroke="#000" stroke-width="2.4"/>
<line x1="1417.00" y1="1791.40" x2="1423.20" y2="1791.40" stroke="#000" stroke-width="2.4"/>
<line x1="1417.00" y1="1847.60" x2="1423.20" y2="1847.60" stroke="#000" stroke-width="2.4"/>
<line x1="1505.30" y1="1902.80" x2="1505.30" y2="1909.00" stroke="#000" stroke-width="2.4"/>
<line x1="1669.50" y1="1902.80" x2="1669.50" y2="1909.00" stroke="#000" stroke-width="2.4"/>
<line x1="1833.00" y1="1902.80" x2="1833.00" y2="1909.00" stroke="#000" stroke-width="2.4"/>
<text x="1386.02" y="1525.00" font-size="25.30" fill="#1a1a1a">7</text>
<text x="1385.90" y="1579.60" font-size="25.30" fill="#1a1a1a">6</text>
<text x="1385.77" y="1635.30" font-size="25.30" fill="#1a1a1a">5</text>
<text x="1385.52" y="1690.30" font-size="25.30" fill="#1a1a1a">4</text>
<text x="1385.90" y="1745.80" font-size="25.30" fill="#1a1a1a">3</text>
<text x="1386.02" y="1801.90" font-size="25.30" fill="#1a1a1a">2</text>
<text x="1385.90" y="1856.60" font-size="25.30" fill="#1a1a1a">1</text>
<text x="1385.77" y="1913.20" font-size="25.30" fill="#1a1a1a">0</text>
<text x="1499.25" y="1942.20" font-size="25.40" fill="#1a1a1a">2</text>
<text x="1663.39" y="1942.20" font-size="25.40" fill="#1a1a1a">6</text>
<text x="1819.15" y="1942.20" font-size="25.40" fill="#1a1a1a">24</text>
<text x="1532.07" y="1976.00" font-size="31.65" fill="#1a1a1a">Time from Start (hrs)</text>
<text x="1617.21" y="1495.20" font-size="35.50" fill="#000">XY</text>
<polyline points="1505.30,1791.10 1669.50,1603.50 1833.00,1534.20" fill="none" stroke="#ff0000" stroke-width="3.3" stroke-dasharray="1.7 5.7" stroke-linecap="round" stroke-linejoin="round"/>
<line x1="1505.30" y1="1771.40" x2="1505.30" y2="1811.20" stroke="#ff0000" stroke-width="2.6"/>
<line x1="1496.60" y1="1771.40" x2="1514.00" y2="1771.40" stroke="#ff0000" stroke-width="2.6"/>
<line x1="1496.60" y1="1811.20" x2="1514.00" y2="1811.20" stroke="#ff0000" stroke-width="2.6"/>
<line x1="1669.50" y1="1574.30" x2="1669.50" y2="1633.40" stroke="#ff0000" stroke-width="2.6"/>
<line x1="1660.80" y1="1574.30" x2="1678.20" y2="1574.30" stroke="#ff0000" stroke-width="2.6"/>
<line x1="1660.80" y1="1633.40" x2="1678.20" y2="1633.40" stroke="#ff0000" stroke-width="2.6"/>
<line x1="1833.00" y1="1522.80" x2="1833.00" y2="1545.10" stroke="#ff0000" stroke-width="2.6"/>
<line x1="1824.30" y1="1522.80" x2="1841.70" y2="1522.80" stroke="#ff0000" stroke-width="2.6"/>
<line x1="1824.30" y1="1545.10" x2="1841.70" y2="1545.10" stroke="#ff0000" stroke-width="2.6"/>
<ellipse cx="1505.30" cy="1791.10" rx="9.6" ry="7.7" fill="#ff0000"/>
<ellipse cx="1669.50" cy="1603.50" rx="9.6" ry="7.7" fill="#ff0000"/>
<ellipse cx="1833.00" cy="1534.20" rx="9.6" ry="7.7" fill="#ff0000"/>
<polyline points="1505.30,1750.90 1669.50,1613.40 1833.00,1563.00" fill="none" stroke="#000" stroke-width="3.3" stroke-dasharray="1.7 5.7" stroke-linecap="round" stroke-linejoin="round"/>
<line x1="1505.30" y1="1723.60" x2="1505.30" y2="1777.60" stroke="#000" stroke-width="2.6"/>
<line x1="1496.60" y1="1723.60" x2="1514.00" y2="1723.60" stroke="#000" stroke-width="2.6"/>
<line x1="1496.60" y1="1777.60" x2="1514.00" y2="1777.60" stroke="#000" stroke-width="2.6"/>
<line x1="1669.50" y1="1586.00" x2="1669.50" y2="1640.70" stroke="#000" stroke-width="2.6"/>
<line x1="1660.80" y1="1586.00" x2="1678.20" y2="1586.00" stroke="#000" stroke-width="2.6"/>
<line x1="1660.80" y1="1640.70" x2="1678.20" y2="1640.70" stroke="#000" stroke-width="2.6"/>
<line x1="1833.00" y1="1540.40" x2="1833.00" y2="1584.20" stroke="#000" stroke-width="2.6"/>
<line x1="1824.30" y1="1540.40" x2="1841.70" y2="1540.40" stroke="#000" stroke-width="2.6"/>
<line x1="1824.30" y1="1584.20" x2="1841.70" y2="1584.20" stroke="#000" stroke-width="2.6"/>
<rect x="1495.70" y="1743.20" width="19.2" height="15.4" fill="#000"/>
<rect x="1659.90" y="1605.70" width="19.2" height="15.4" fill="#000"/>
<rect x="1823.40" y="1555.30" width="19.2" height="15.4" fill="#000"/>
<line x1="1735.90" y1="1806.80" x2="1757.90" y2="1806.80" stroke="#000" stroke-width="3.6" stroke-linecap="round"/>
<rect x="1739.30" y="1799.30" width="15.2" height="15" fill="#000"/>
<line x1="1738.50" y1="1849.10" x2="1760.90" y2="1849.10" stroke="#ff0000" stroke-width="3.6" stroke-linecap="round"/>
<circle cx="1749.70" cy="1849.10" r="7.6" fill="#ff0000"/>
<text x="1768.11" y="1813.70" font-size="29.60" font-style="italic" fill="#1a1a1a">Pnky</text>
<text x="1843.91" y="1803.10" font-size="17.80" fill="#1a1a1a">+/+</text>
<text x="1872.76" y="1813.70" font-size="30.70" fill="#1a1a1a">(WT)</text>
<text x="1768.11" y="1856.80" font-size="29.60" font-style="italic" fill="#e8141c">Pnky</text>
<text x="1843.40" y="1847.70" font-size="17.80" fill="#e8141c">-/-</text>
<text x="1873.36" y="1857.40" font-size="30.70" fill="#e8141c">(KO)</text>
<path d="M327.8,552.5 C329.4,553.4 334.6,555.3 337.2,558.1 C339.8,560.9 341.8,564.8 343.7,569.3 C345.6,573.8 346.8,580.4 348.4,585.3 C350.0,590.1 351.1,595.3 353.1,598.4 C355.1,601.5 358.0,603.1 360.6,604.0 C363.2,604.9 367.6,603.6 369.0,603.5" fill="none" stroke="#8d5b58" stroke-width="3.2" stroke-linecap="round"/>
<path d="M327.8,552.5 C329.4,553.4 334.6,555.3 337.2,558.1 C339.8,560.9 341.8,564.8 343.7,569.3 C345.6,573.8 346.8,580.4 348.4,585.3 C350.0,590.1 351.1,595.3 353.1,598.4 C355.1,601.5 358.0,603.1 360.6,604.0 C363.2,604.9 367.6,603.6 369.0,603.5" fill="none" stroke="#c08a85" stroke-width="1.8" stroke-linecap="round"/>
<path d="M280.2,512.5 C280.8,511.4 281.8,510.8 284.2,510.6 C286.5,510.4 290.9,510.2 294.2,511.6 C297.6,512.9 300.0,516.3 304.2,518.6 C308.4,521.0 315.3,523.1 319.3,525.6 C323.3,528.1 326.2,531.3 328.3,533.6 C330.3,535.9 331.3,536.9 331.8,539.6 C332.3,542.3 331.9,547.3 331.4,549.7 C330.8,552.0 329.9,552.4 328.3,553.7 C326.6,555.1 323.8,556.9 321.3,557.7 C318.8,558.4 315.6,558.9 313.3,558.2 C310.9,557.6 309.8,556.0 307.3,553.7 C304.8,551.5 301.0,547.8 298.2,544.6 C295.3,541.5 292.5,537.9 290.2,534.7 C287.8,531.5 285.8,528.4 284.2,525.6 C282.6,522.7 281.3,519.7 280.6,517.6 C280.0,515.4 279.6,513.7 280.2,512.5 Z" fill="#4a4542" stroke="#3a3533" stroke-width="0.6"/>
<ellipse cx="300" cy="517" rx="4" ry="2" fill="#c48a88" transform="rotate(20 300 517)"/>
<ellipse cx="287.5" cy="530" rx="1.6" ry="4" fill="#c48a88" transform="rotate(-10 287.5 530)"/>
<circle cx="283" cy="514.5" r="1.4" fill="#c48a88"/>
<line x1="106.5" y1="1052.7" x2="158" y2="1052.7" stroke="#7d7d7d" stroke-width="3.8" stroke-linecap="round"/>
<line x1="106.5" y1="1052.7" x2="158" y2="1052.7" stroke="#b5b5b5" stroke-width="1.6" stroke-linecap="round"/>
<line x1="373" y1="1049.8" x2="423.2" y2="1049.8" stroke="#7d7d7d" stroke-width="3.8" stroke-linecap="round"/>
<line x1="373" y1="1049.8" x2="423.2" y2="1049.8" stroke="#b5b5b5" stroke-width="1.6" stroke-linecap="round"/>
<rect x="146.5" y="1054.4" width="10.7" height="160.6" rx="5.3" fill="#8e8e8e"/>
<rect x="149.3" y="1057" width="5.1" height="155" rx="2.5" fill="#b3b3b3"/>
<rect x="372.8" y="1051.5" width="9.9" height="161.8" rx="4.9" fill="#8e8e8e"/>
<rect x="375.4" y="1054" width="4.7" height="156.5" rx="2.3" fill="#b3b3b3"/>
<ellipse cx="169.6" cy="1046.3" rx="13.2" ry="61.9" fill="#959a9e" stroke="#5c6266" stroke-width="1.4"/>
<ellipse cx="170.79999999999998" cy="1046.3" rx="10.2" ry="59.699999999999996" fill="#cbccd0"/>
<path d="M161.20000000000002,1009.16 Q159.4,1046.3 161.20000000000002,1083.44" fill="none" stroke="#e8e9ec" stroke-width="1.1"/>
<ellipse cx="361.9" cy="1049.0" rx="13.4" ry="61.8" fill="#959a9e" stroke="#5c6266" stroke-width="1.4"/>
<ellipse cx="363.09999999999997" cy="1049.0" rx="10.4" ry="59.599999999999994" fill="#cbccd0"/>
<path d="M353.3,1011.92 Q351.5,1049.0 353.3,1086.08" fill="none" stroke="#e8e9ec" stroke-width="1.1"/>
<rect x="174.3" y="1031" width="180.2" height="33.7" rx="9" fill="#858585"/>
<rect x="180.3" y="1041.6" width="168.2" height="12.8" rx="6.4" fill="#b3b3b3"/>
<ellipse cx="265.3" cy="1048.3" rx="13.6" ry="61.7" fill="#959a9e" stroke="#5c6266" stroke-width="1.4"/>
<ellipse cx="266.5" cy="1048.3" rx="10.6" ry="59.5" fill="#cbccd0"/>
<path d="M256.5,1011.28 Q254.70000000000002,1048.3 256.5,1085.32" fill="none" stroke="#e8e9ec" stroke-width="1.1"/>
<path d="M310.1,1068.0 C310.3,1069.7 311.6,1074.3 311.5,1078.0 C311.4,1081.7 309.9,1086.3 309.5,1090.0 C309.1,1093.7 308.8,1097.0 309.0,1100.0 C309.2,1103.0 310.5,1105.6 310.5,1108.0 C310.5,1110.4 309.4,1113.2 309.2,1114.2" fill="none" stroke="#a97671" stroke-width="1.6" stroke-linecap="round"/>
<path d="M305.8,1008.3 C306.9,1008.5 308.1,1011.0 309.0,1013.0 C309.9,1015.0 310.6,1017.7 311.5,1020.0 C312.4,1022.3 313.4,1024.5 314.5,1027.0 C315.6,1029.5 317.0,1032.0 318.0,1035.0 C319.0,1038.0 320.0,1041.5 320.3,1045.0 C320.6,1048.5 320.7,1052.8 320.0,1056.0 C319.3,1059.2 317.6,1061.9 316.0,1064.0 C314.4,1066.1 312.4,1067.8 310.5,1068.5 C308.6,1069.2 306.4,1069.1 304.5,1068.0 C302.6,1066.9 300.7,1064.7 299.0,1062.0 C297.3,1059.3 295.5,1055.7 294.5,1052.0 C293.5,1048.3 293.2,1044.0 293.2,1040.0 C293.2,1036.0 293.7,1031.5 294.5,1028.0 C295.3,1024.5 296.7,1021.7 298.0,1019.0 C299.3,1016.3 301.2,1013.8 302.5,1012.0 C303.8,1010.2 304.7,1008.1 305.8,1008.3 Z" fill="#4b4643" stroke="#3a3533" stroke-width="0.6"/>
<path d="M295,1024 l-5,3 M296,1066 l-6,2 M319,1061 l4,-6" stroke="#c79791" stroke-width="1.6" fill="none" stroke-linecap="round"/>
<circle cx="297.5" cy="1022" r="2" fill="#c79791"/><circle cx="313" cy="1023" r="2" fill="#c79791"/>
<polygon points="417.4,1112.8 417.8,1111.3 418.2,1109.7 418.5,1108.0 418.9,1106.4 419.2,1104.7 419.6,1102.9 419.9,1101.2 420.1,1099.4 420.4,1097.6 420.6,1095.7 420.8,1093.8 421.0,1091.9 421.1,1090.0 421.2,1088.0 421.2,1086.0 421.2,1084.0 421.2,1082.0 421.1,1079.9 421.0,1077.9 420.8,1075.8 420.5,1073.6 420.2,1071.5 419.8,1069.3 419.3,1067.2 418.8,1065.0 418.1,1062.8 417.4,1060.6 416.6,1058.4 415.7,1056.2 414.7,1054.0 413.7,1051.8 412.5,1049.5 411.3,1047.3 410.0,1045.1 408.5,1042.9 407.0,1040.6 405.4,1038.4 403.7,1036.2 401.8,1033.9 399.9,1031.7 397.1,1034.3 398.9,1036.4 400.7,1038.5 402.4,1040.7 403.9,1042.8 405.4,1044.9 406.7,1047.1 408.0,1049.2 409.2,1051.3 410.3,1053.5 411.3,1055.6 412.2,1057.7 413.0,1059.8 413.8,1061.9 414.5,1064.0 415.2,1066.0 415.8,1068.1 416.3,1070.1 416.8,1072.2 417.3,1074.2 417.7,1076.2 418.0,1078.2 418.3,1080.2 418.5,1082.2 418.7,1084.1 418.8,1086.1 418.9,1088.0 418.9,1089.9 419.0,1091.8 418.9,1093.7 418.9,1095.6 418.8,1097.4 418.7,1099.2 418.5,1101.0 418.4,1102.8 418.2,1104.5 418.0,1106.2 417.7,1107.9 417.5,1109.5 417.3,1111.2 417.0,1112.8" fill="#222"/>
<polygon points="381,1025.4 400,1020.5 394.8,1038.2" fill="#222"/>
<path d="M279.8,1529.5 C282.4,1530.3 289.6,1533.1 291.7,1535.5 C293.8,1537.9 291.1,1540.8 292.3,1543.8 C293.5,1546.8 298.7,1550.9 298.8,1553.3 C298.9,1555.7 291.9,1556.1 292.9,1558.1 C293.9,1560.1 301.8,1562.8 304.8,1565.2 C307.8,1567.6 307.7,1572.6 310.7,1572.4 C313.7,1572.2 319.0,1564.0 322.6,1564.0 C326.2,1564.0 328.5,1570.0 332.1,1572.4 C335.7,1574.8 343.4,1576.7 344.0,1578.3 C344.6,1579.9 337.5,1579.7 335.7,1581.9 C333.9,1584.1 332.5,1589.2 333.3,1591.4 C334.1,1593.6 338.1,1592.6 340.5,1595.0 C342.9,1597.4 345.2,1602.7 347.6,1605.7 C350.0,1608.7 353.4,1609.3 354.8,1612.9 C356.2,1616.5 356.0,1622.8 356.0,1627.1 C356.0,1631.4 354.0,1635.0 354.8,1639.0 C355.6,1643.0 361.1,1647.0 360.7,1651.0 C360.3,1655.0 355.8,1659.7 352.4,1662.9 C349.0,1666.1 342.1,1667.4 340.5,1670.0 C338.9,1672.6 342.9,1675.9 342.9,1678.3 C342.9,1680.7 343.9,1682.5 340.5,1684.3 C337.1,1686.1 328.2,1686.6 322.6,1689.0 C317.0,1691.4 312.1,1696.6 307.1,1698.6 C302.2,1700.6 296.3,1699.6 292.9,1701.0 C289.5,1702.4 289.9,1706.1 286.9,1706.9 C283.9,1707.7 278.8,1704.3 275.0,1705.7 C271.2,1707.1 267.9,1714.0 264.3,1715.2 C260.7,1716.4 257.6,1712.9 253.6,1712.9 C249.6,1712.9 243.9,1716.4 240.5,1715.2 C237.1,1714.0 236.5,1708.5 233.3,1705.7 C230.1,1702.9 225.8,1700.2 221.4,1698.6 C217.0,1697.0 212.2,1696.2 207.1,1696.2 C201.9,1696.2 193.7,1700.2 190.5,1698.6 C187.3,1697.0 190.5,1689.7 188.1,1686.7 C185.7,1683.7 180.0,1683.1 176.2,1680.7 C172.4,1678.3 166.3,1675.4 165.5,1672.4 C164.7,1669.4 170.8,1666.9 171.4,1662.9 C172.0,1658.9 168.8,1654.0 169.0,1648.6 C169.2,1643.2 171.2,1635.9 172.6,1630.7 C174.0,1625.5 175.2,1620.4 177.4,1617.6 C179.6,1614.8 182.7,1613.4 185.7,1614.0 C188.7,1614.6 194.6,1623.0 195.2,1621.2 C195.8,1619.4 190.3,1608.1 189.3,1603.3 C188.3,1598.5 188.3,1595.6 189.3,1592.6 C190.3,1589.6 193.4,1588.5 195.2,1585.5 C197.0,1582.5 198.0,1577.4 200.0,1574.8 C202.0,1572.2 206.9,1572.4 207.1,1570.0 C207.3,1567.6 199.6,1562.3 201.2,1560.5 C202.8,1558.7 211.3,1561.1 216.7,1559.3 C222.0,1557.5 228.9,1551.0 233.3,1549.8 C237.7,1548.6 240.3,1552.1 242.9,1552.1 C245.5,1552.1 245.4,1552.2 248.8,1549.8 C252.2,1547.4 259.7,1540.1 263.1,1537.9 C266.5,1535.7 266.8,1537.9 269.0,1536.7 C271.2,1535.5 274.4,1531.9 276.2,1530.7 C278.0,1529.5 277.2,1528.7 279.8,1529.5 Z" fill="#e3e2de" stroke="#a9a9a2" stroke-width="0.9" stroke-linejoin="round"/>
<path d="M272.0,1545.0 C277.0,1545.0 285.0,1548.5 288.0,1552.0 C291.0,1555.5 287.0,1561.7 290.0,1566.0 C293.0,1570.3 300.2,1574.8 306.0,1578.0 C311.8,1581.2 319.7,1581.3 325.0,1585.0 C330.3,1588.7 334.5,1593.8 338.0,1600.0 C341.5,1606.2 344.8,1614.5 346.0,1622.0 C347.2,1629.5 347.2,1638.7 345.0,1645.0 C342.8,1651.3 337.5,1656.2 333.0,1660.0 C328.5,1663.8 323.5,1664.7 318.0,1668.0 C312.5,1671.3 306.3,1676.3 300.0,1680.0 C293.7,1683.7 287.0,1687.5 280.0,1690.0 C273.0,1692.5 265.3,1695.0 258.0,1695.0 C250.7,1695.0 243.3,1692.2 236.0,1690.0 C228.7,1687.8 220.7,1685.0 214.0,1682.0 C207.3,1679.0 200.7,1675.7 196.0,1672.0 C191.3,1668.3 187.5,1665.0 186.0,1660.0 C184.5,1655.0 185.3,1647.3 187.0,1642.0 C188.7,1636.7 193.0,1633.0 196.0,1628.0 C199.0,1623.0 203.7,1617.3 205.0,1612.0 C206.3,1606.7 202.8,1601.3 204.0,1596.0 C205.2,1590.7 208.3,1584.7 212.0,1580.0 C215.7,1575.3 220.7,1571.0 226.0,1568.0 C231.3,1565.0 238.7,1564.7 244.0,1562.0 C249.3,1559.3 253.3,1554.8 258.0,1552.0 C262.7,1549.2 267.0,1545.0 272.0,1545.0 Z" fill="#f1f1ee"/>
<path d="M300,1575 q8,10 4,22 M262,1566 q10,6 20,2 M318,1640 q6,8 -2,16 M222,1662 q20,8 40,2 M300,1668 q10,-8 24,-6" fill="none" stroke="#dcdbd6" stroke-width="4" stroke-linecap="round"/>
<path d="M292.9,1639.0 C295.8,1638.9 304.1,1638.7 310.0,1638.5 C315.9,1638.3 322.9,1637.9 328.6,1637.9 C334.3,1637.9 340.0,1638.1 344.0,1638.5 C348.0,1638.9 349.7,1639.1 352.4,1640.2 C355.1,1641.3 358.1,1643.0 360.0,1645.0 C361.9,1647.0 362.9,1649.8 363.5,1652.0 C364.1,1654.2 363.9,1656.2 363.5,1658.0 C363.1,1659.8 361.7,1662.1 361.3,1662.9" fill="none" stroke="#9a6762" stroke-width="4.4" stroke-linecap="round"/>
<path d="M292.9,1639.0 C295.8,1638.9 304.1,1638.7 310.0,1638.5 C315.9,1638.3 322.9,1637.9 328.6,1637.9 C334.3,1637.9 340.0,1638.1 344.0,1638.5 C348.0,1638.9 349.7,1639.1 352.4,1640.2 C355.1,1641.3 358.1,1643.0 360.0,1645.0 C361.9,1647.0 362.9,1649.8 363.5,1652.0 C364.1,1654.2 363.9,1656.2 363.5,1658.0 C363.1,1659.8 361.7,1662.1 361.3,1662.9" fill="none" stroke="#bf8580" stroke-width="2.8" stroke-linecap="round"/>
<path d="M200.0,1640.2 C200.3,1638.5 202.0,1635.2 203.0,1633.0 C204.0,1630.8 204.8,1629.6 206.0,1627.1 C207.2,1624.6 208.9,1620.8 210.5,1618.0 C212.1,1615.2 213.2,1612.8 215.5,1610.5 C217.8,1608.2 221.0,1606.1 224.0,1604.5 C227.0,1602.9 229.2,1602.4 233.3,1601.0 C237.4,1599.6 243.8,1596.6 248.8,1596.2 C253.8,1595.8 258.1,1596.6 263.1,1598.6 C268.1,1600.6 274.2,1604.3 278.6,1608.1 C283.0,1611.9 286.9,1616.4 289.3,1621.2 C291.7,1626.0 292.7,1633.1 292.9,1636.7 C293.1,1640.3 292.6,1641.3 290.5,1642.6 C288.4,1643.9 283.6,1644.1 280.0,1644.5 C276.4,1644.9 273.2,1644.8 269.0,1645.0 C264.8,1645.2 259.0,1645.3 255.0,1645.5 C251.0,1645.7 248.8,1645.7 245.2,1646.2 C241.6,1646.7 237.3,1648.6 233.3,1648.6 C229.3,1648.6 225.3,1646.6 221.4,1646.2 C217.5,1645.8 212.8,1646.2 210.0,1646.2 C207.2,1646.2 206.3,1646.7 204.8,1646.2 C203.3,1645.8 201.8,1644.5 201.0,1643.5 C200.2,1642.5 199.7,1642.0 200.0,1640.2 Z" fill="#4d4845" stroke="#3b3634" stroke-width="0.6"/>
<ellipse cx="219" cy="1606" rx="3.3" ry="4.6" fill="#3f3a38" transform="rotate(25 219 1606)"/>
<ellipse cx="230.8" cy="1613.5" rx="5.4" ry="8.6" fill="#c0908c" stroke="#9b6c68" stroke-width="0.6" transform="rotate(12 230.8 1613.5)"/>
<circle cx="213.1" cy="1628.3" r="2" fill="#111"/>
<ellipse cx="227" cy="1649" rx="6" ry="2.6" fill="#c0908c"/>
<ellipse cx="270" cy="1647.5" rx="9" ry="3" fill="#c0908c"/>
<circle cx="200.5" cy="1640" r="1.3" fill="#c0908c"/>
</svg>
</body></html>
